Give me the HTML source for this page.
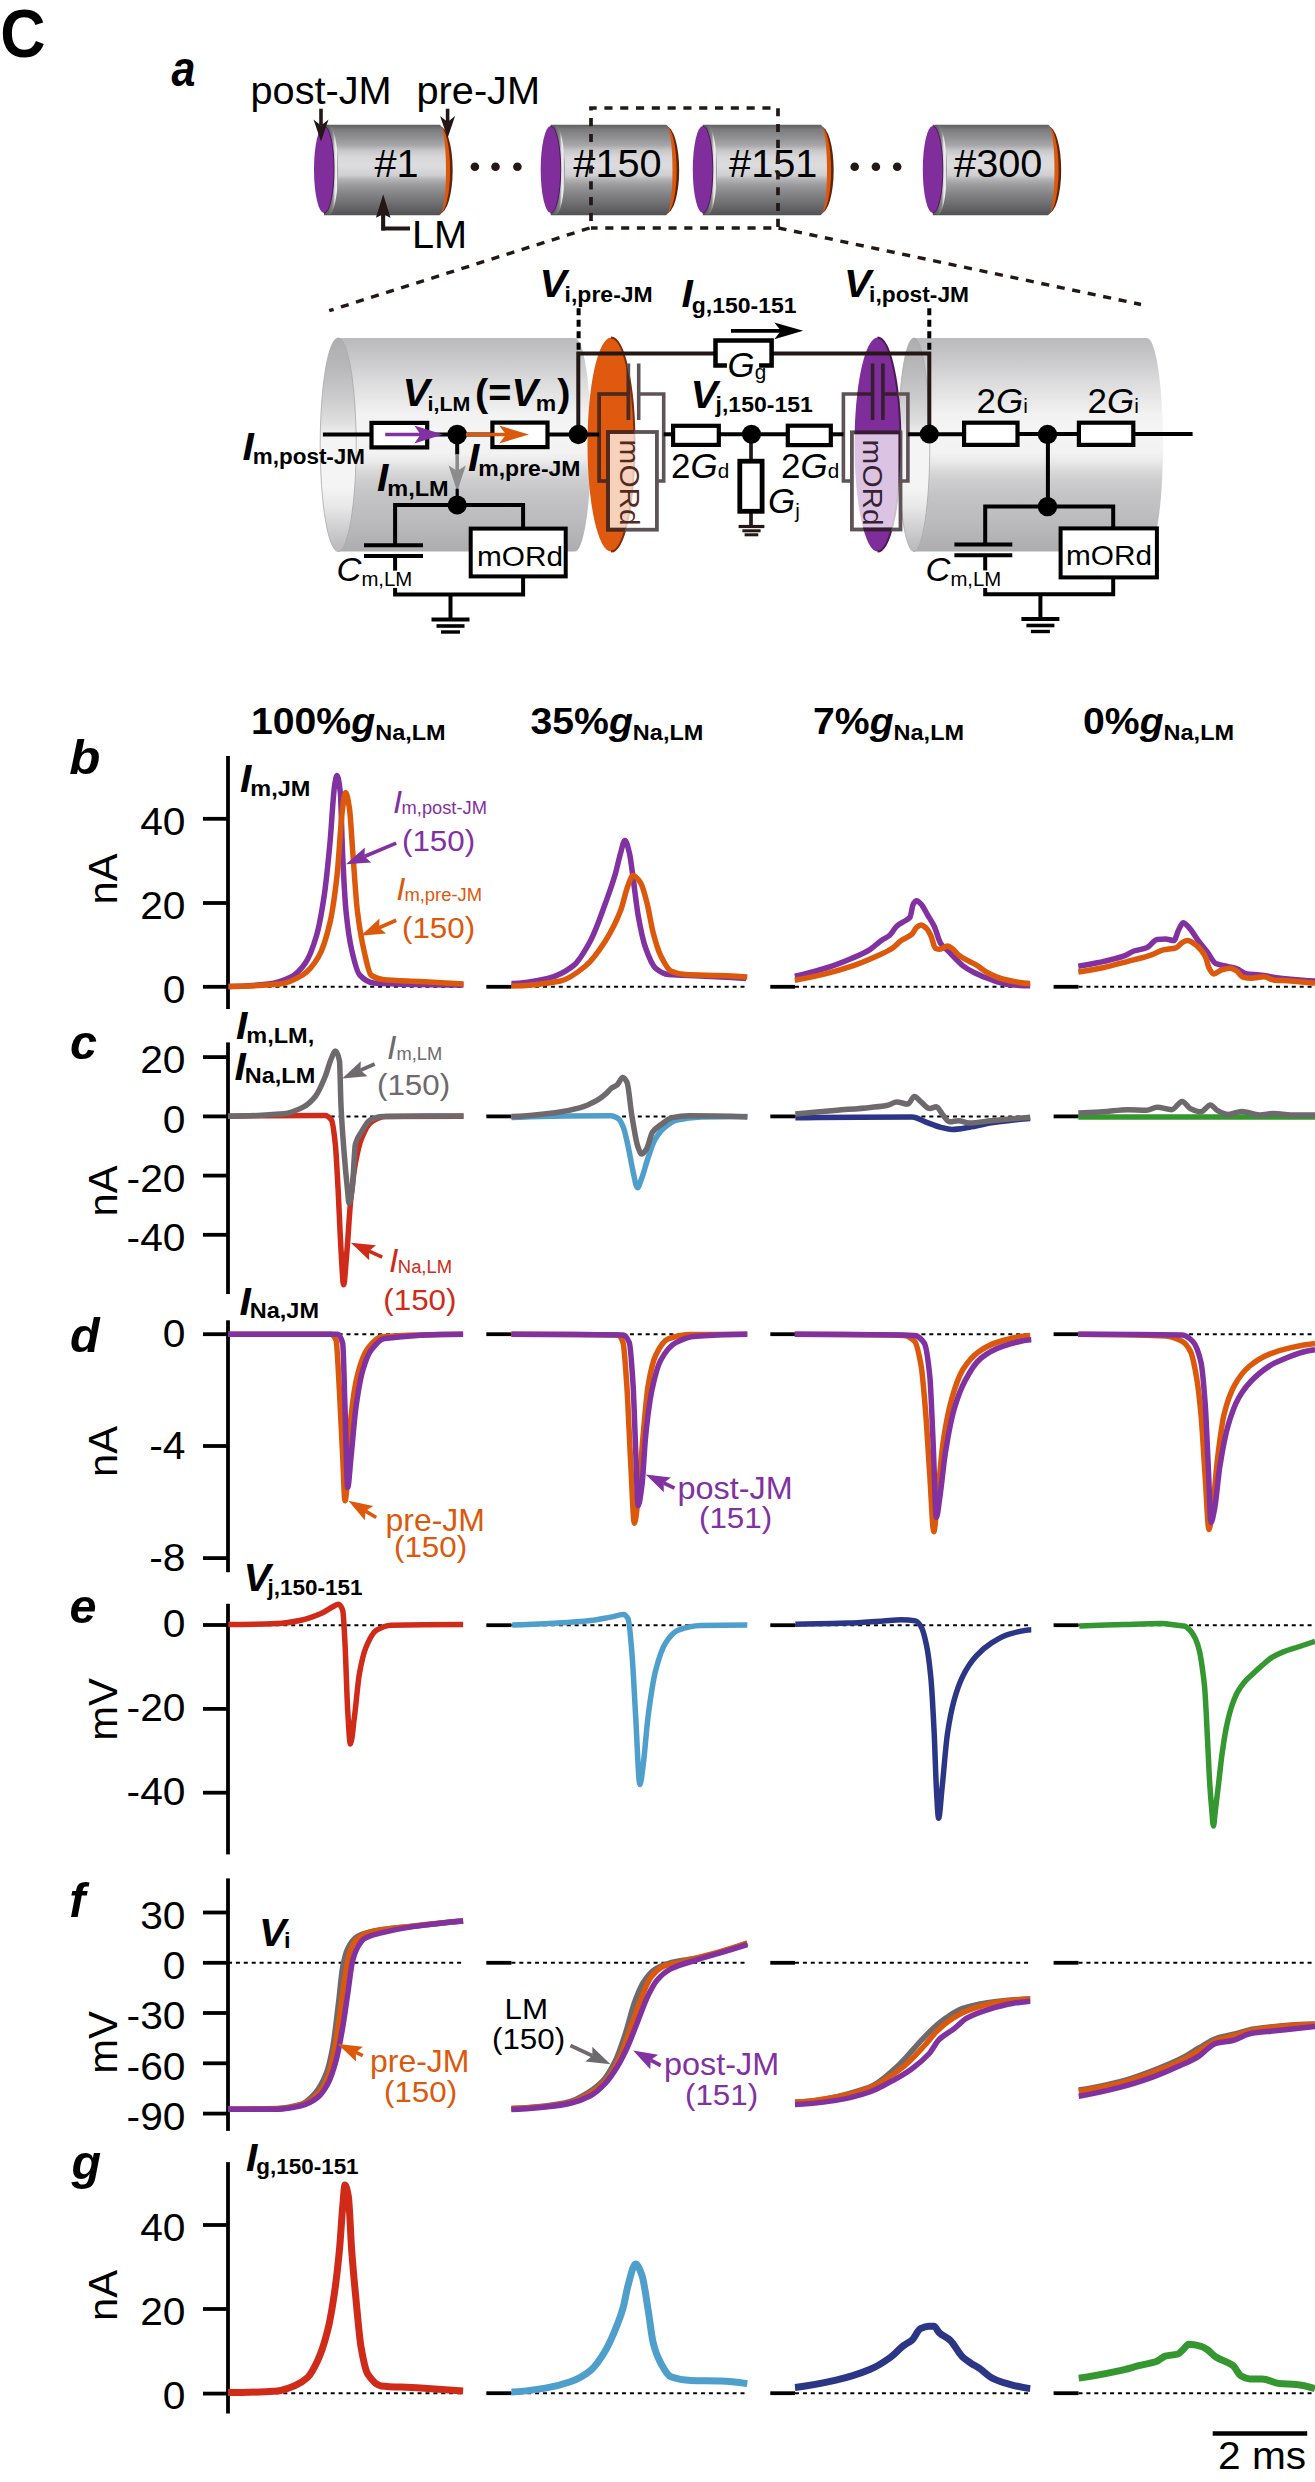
<!DOCTYPE html>
<html><head><meta charset="utf-8"><title>Figure</title>
<style>
html,body{margin:0;padding:0;background:#fff;}
svg{display:block;}
text{font-family:"Liberation Sans", sans-serif;}
</style></head>
<body>
<svg width="1315" height="2482" viewBox="0 0 1315 2482">
<rect width="1315" height="2482" fill="#fff"/>
<defs>
<linearGradient id="cylS" x1="0" y1="0" x2="0" y2="1">
<stop offset="0" stop-color="#5f5f61"/><stop offset="0.05" stop-color="#7a7a7c"/>
<stop offset="0.155" stop-color="#939395"/><stop offset="0.23" stop-color="#a8a8aa"/>
<stop offset="0.28" stop-color="#c5c5c7"/><stop offset="0.357" stop-color="#d8d8da"/>
<stop offset="0.46" stop-color="#dcdcde"/><stop offset="0.56" stop-color="#cfcfd1"/>
<stop offset="0.6" stop-color="#b5b5b7"/><stop offset="0.66" stop-color="#9d9d9f"/>
<stop offset="0.76" stop-color="#858587"/><stop offset="0.86" stop-color="#717173"/>
<stop offset="0.94" stop-color="#5f5f61"/><stop offset="1" stop-color="#525254"/>
</linearGradient>
<linearGradient id="rimS" x1="0" y1="0" x2="1" y2="0">
<stop offset="0" stop-color="#555557"/><stop offset="0.5" stop-color="#606062"/>
<stop offset="0.74" stop-color="#8a8a8c"/><stop offset="0.84" stop-color="#e4e4e6"/>
<stop offset="0.92" stop-color="#f2f2f2"/><stop offset="1" stop-color="#7a7a7c"/>
</linearGradient>
<linearGradient id="cylB" x1="0" y1="0" x2="0" y2="1">
<stop offset="0" stop-color="#bbbbbd"/><stop offset="0.03" stop-color="#bebec0"/>
<stop offset="0.125" stop-color="#cdcdcf"/><stop offset="0.208" stop-color="#dcdcdd"/>
<stop offset="0.291" stop-color="#e8e8e9"/><stop offset="0.354" stop-color="#f2f2f2"/>
<stop offset="0.43" stop-color="#f5f5f5"/><stop offset="0.54" stop-color="#f2f2f3"/>
<stop offset="0.58" stop-color="#e9e9ea"/><stop offset="0.62" stop-color="#dadadb"/>
<stop offset="0.66" stop-color="#cfcfd0"/><stop offset="0.726" stop-color="#c5c5c7"/>
<stop offset="0.788" stop-color="#c0c0c2"/><stop offset="0.85" stop-color="#bcbcbe"/>
<stop offset="0.913" stop-color="#b5b5b7"/><stop offset="0.967" stop-color="#b0b0b2"/>
<stop offset="1" stop-color="#adadaf"/>
</linearGradient>
<linearGradient id="faceB" x1="0" y1="0" x2="0" y2="1">
<stop offset="0" stop-color="#adadaf"/><stop offset="0.03" stop-color="#b0b0b2"/>
<stop offset="0.14" stop-color="#b8b8ba"/><stop offset="0.27" stop-color="#cacacc"/>
<stop offset="0.4" stop-color="#e0e0e0"/><stop offset="0.44" stop-color="#ececec"/>
<stop offset="0.48" stop-color="#f4f4f4"/><stop offset="0.7" stop-color="#f4f4f4"/>
<stop offset="0.79" stop-color="#e8e8e8"/><stop offset="0.87" stop-color="#d4d4d6"/>
<stop offset="0.96" stop-color="#c0c0c2"/><stop offset="1" stop-color="#bababc"/>
</linearGradient>
<clipPath id="clipO"><ellipse cx="611" cy="444.6" rx="23.5" ry="107"/></clipPath>
<clipPath id="clipP"><ellipse cx="877.5" cy="444.6" rx="23" ry="107"/></clipPath>
</defs>
<text transform="translate(0.3 57) scale(0.915 1)" font-size="68.5" font-weight="bold" font-style="normal" fill="#000" text-anchor="start" >C</text>
<text transform="translate(171.5 85.5) scale(0.86 1)" font-size="50" font-weight="bold" font-style="italic" fill="#000" text-anchor="start" >a</text>
<path d="M439.5,126.2 A13.2,43.74999999999999 0 0 1 439.5,213.7 Z" fill="#5e2410"/><path d="M439.5,126.2 A10.6,43.74999999999999 0 0 1 439.5,213.7 Z" fill="#dc590c"/><path d="M324,124.7 L439.5,124.7 A6.5,45.24999999999999 0 0 1 439.5,215.2 L324,215.2 Z" fill="url(#cylS)"/><ellipse cx="328.3" cy="169.95" rx="9.8" ry="45.24999999999999" fill="url(#rimS)"/><ellipse cx="324" cy="169.5" rx="10" ry="43.6" fill="#7f2e9c"/><path d="M324,125.9 A10,43.6 0 0 1 324,213.1" fill="none" stroke="#4c1a55" stroke-width="1"/><text transform="translate(374.5 176.6) scale(1.045 1)" font-size="38" font-weight="normal" font-style="normal" fill="#000" text-anchor="start" >#1</text>
<path d="M666,126.2 A13.2,43.74999999999999 0 0 1 666,213.7 Z" fill="#5e2410"/><path d="M666,126.2 A10.6,43.74999999999999 0 0 1 666,213.7 Z" fill="#dc590c"/><path d="M550.7,124.7 L666,124.7 A6.5,45.24999999999999 0 0 1 666,215.2 L550.7,215.2 Z" fill="url(#cylS)"/><ellipse cx="555.0" cy="169.95" rx="9.8" ry="45.24999999999999" fill="url(#rimS)"/><ellipse cx="550.7" cy="169.5" rx="10" ry="43.6" fill="#7f2e9c"/><path d="M550.7,125.9 A10,43.6 0 0 1 550.7,213.1" fill="none" stroke="#4c1a55" stroke-width="1"/><text transform="translate(573.3 176.6) scale(1.045 1)" font-size="38" font-weight="normal" font-style="normal" fill="#000" text-anchor="start" >#150</text>
<path d="M820.5,126.2 A13.2,43.74999999999999 0 0 1 820.5,213.7 Z" fill="#5e2410"/><path d="M820.5,126.2 A10.6,43.74999999999999 0 0 1 820.5,213.7 Z" fill="#dc590c"/><path d="M702.8,124.7 L820.5,124.7 A6.5,45.24999999999999 0 0 1 820.5,215.2 L702.8,215.2 Z" fill="url(#cylS)"/><ellipse cx="707.0999999999999" cy="169.95" rx="9.8" ry="45.24999999999999" fill="url(#rimS)"/><ellipse cx="702.8" cy="169.5" rx="10" ry="43.6" fill="#7f2e9c"/><path d="M702.8,125.9 A10,43.6 0 0 1 702.8,213.1" fill="none" stroke="#4c1a55" stroke-width="1"/><text transform="translate(729.1 176.6) scale(1.045 1)" font-size="38" font-weight="normal" font-style="normal" fill="#000" text-anchor="start" >#151</text>
<path d="M1048,126.2 A13.2,43.74999999999999 0 0 1 1048,213.7 Z" fill="#5e2410"/><path d="M1048,126.2 A10.6,43.74999999999999 0 0 1 1048,213.7 Z" fill="#dc590c"/><path d="M932.8,124.7 L1048,124.7 A6.5,45.24999999999999 0 0 1 1048,215.2 L932.8,215.2 Z" fill="url(#cylS)"/><ellipse cx="937.0999999999999" cy="169.95" rx="9.8" ry="45.24999999999999" fill="url(#rimS)"/><ellipse cx="932.8" cy="169.5" rx="10" ry="43.6" fill="#7f2e9c"/><path d="M932.8,125.9 A10,43.6 0 0 1 932.8,213.1" fill="none" stroke="#4c1a55" stroke-width="1"/><text transform="translate(954.1 176.6) scale(1.045 1)" font-size="38" font-weight="normal" font-style="normal" fill="#000" text-anchor="start" >#300</text>
<circle cx="474.9" cy="166.7" r="4.3" fill="#231815"/>
<circle cx="495.5" cy="166.7" r="4.3" fill="#231815"/>
<circle cx="517.4" cy="166.7" r="4.3" fill="#231815"/>
<circle cx="854.7" cy="166.7" r="4.3" fill="#231815"/>
<circle cx="875.9" cy="166.7" r="4.3" fill="#231815"/>
<circle cx="897.2" cy="166.7" r="4.3" fill="#231815"/>
<text transform="translate(250.5 103.8) scale(1.045 1)" font-size="38" font-weight="normal" font-style="normal" fill="#000" text-anchor="start" >post-JM</text>
<text transform="translate(416.5 103.8) scale(1.045 1)" font-size="38" font-weight="normal" font-style="normal" fill="#000" text-anchor="start" >pre-JM</text>
<line x1="321" y1="108.7" x2="321" y2="125.5" stroke="#231815" stroke-width="3.6"/><path d="M321,141.5 L313.5,119.5 L321,125.5 L328.5,119.5 Z" fill="#231815"/>
<line x1="447.6" y1="108.7" x2="447.6" y2="122" stroke="#231815" stroke-width="3.6"/><path d="M447.6,138 L440.1,116 L447.6,122 L455.1,116 Z" fill="#231815"/>
<line x1="383.2" y1="230.5" x2="383.2" y2="214.2" stroke="#231815" stroke-width="3.6"/><path d="M383.2,194.2 L375.9,217.7 L383.2,214.2 L390.5,217.7 Z" fill="#231815"/>
<polyline points="383.2,214 383.2,228.5 410,228.5" fill="none" stroke="#231815" stroke-width="4"/>
<text transform="translate(412 247.8) scale(1.045 1)" font-size="38" font-weight="normal" font-style="normal" fill="#000" text-anchor="start" >LM</text>
<path d="M591,228 L591,108 L778,108 L778,228 Z" fill="none" stroke="#231815" stroke-width="3.7" stroke-dasharray="8.1 7.7" stroke-dashoffset="-7"/>
<line x1="589.6" y1="228" x2="329.2" y2="310.7" stroke="#231815" stroke-width="3.4" stroke-dasharray="8.1 7.7"/>
<line x1="778.5" y1="228" x2="1141" y2="304.5" stroke="#231815" stroke-width="3.4" stroke-dasharray="8.1 7.7"/>
<path d="M339,338 L575,338 A16,106.75 0 0 1 575,551.5 L339,551.5 Z" fill="url(#cylB)"/>
<ellipse cx="338.2" cy="444.75" rx="18" ry="106.75" fill="url(#faceB)" stroke="#a8a8aa" stroke-width="0.8"/>
<path d="M913.7,338 L1147,338 A16,106.75 0 0 1 1147,551.5 L913.7,551.5 Z" fill="url(#cylB)"/>
<ellipse cx="914" cy="444.75" rx="15.8" ry="106.75" fill="url(#faceB)" stroke="#a8a8aa" stroke-width="0.8"/>
<ellipse cx="611" cy="444.6" rx="23.5" ry="107" fill="#df5a0e"/>
<path d="M611,337.6 A23.5,107 0 0 1 611,551.6" fill="none" stroke="#7a2e10" stroke-width="2"/>
<ellipse cx="877.5" cy="444.6" rx="23" ry="107" fill="#7f2d9b"/>
<path d="M877.5,337.6 A23,107 0 0 1 877.5,551.6" fill="none" stroke="#4a1d52" stroke-width="2"/>
<rect x="608" y="432" width="48.9" height="97.7" fill="#fff" fill-opacity="0.72"/>
<rect x="851.9" y="432.3" width="48.6" height="97.2" fill="#fff" fill-opacity="0.72"/>
<g fill="none" stroke="#5e5356" stroke-width="3.6"><polyline points="608,481 599.2,481 599.2,394 628.4,394"/><polyline points="638.7,394 663.7,394 663.7,481 656.9,481"/><line x1="628.4" y1="363.5" x2="628.4" y2="420"/><line x1="638.7" y1="363.5" x2="638.7" y2="420"/></g><rect x="608" y="432" width="48.9" height="97.7" fill="none" stroke="#5e5356" stroke-width="3.8"/>
<g clip-path="url(#clipO)"><g fill="none" stroke="#52281a" stroke-width="3.6"><polyline points="608,481 599.2,481 599.2,394 628.4,394"/><polyline points="638.7,394 663.7,394 663.7,481 656.9,481"/><line x1="628.4" y1="363.5" x2="628.4" y2="420"/><line x1="638.7" y1="363.5" x2="638.7" y2="420"/></g><rect x="608" y="432" width="48.9" height="97.7" fill="none" stroke="#52281a" stroke-width="3.8"/></g>
<g fill="none" stroke="#5e5356" stroke-width="3.6"><polyline points="851.9,481 843.4,481 843.4,394 872.6,394"/><polyline points="882.9,394 907.9,394 907.9,481 900.5,481"/><line x1="872.6" y1="363.5" x2="872.6" y2="420"/><line x1="882.9" y1="363.5" x2="882.9" y2="420"/></g><rect x="851.9" y="432.3" width="48.6" height="97.2" fill="none" stroke="#5e5356" stroke-width="3.8"/>
<g clip-path="url(#clipP)"><g fill="none" stroke="#3a1b36" stroke-width="3.6"><polyline points="851.9,481 843.4,481 843.4,394 872.6,394"/><polyline points="882.9,394 907.9,394 907.9,481 900.5,481"/><line x1="872.6" y1="363.5" x2="872.6" y2="420"/><line x1="882.9" y1="363.5" x2="882.9" y2="420"/></g><rect x="851.9" y="432.3" width="48.6" height="97.2" fill="none" stroke="#3a1b36" stroke-width="3.8"/></g>
<text transform="translate(620.3 439.6) rotate(90) scale(1.045 1)" font-size="28.5" font-weight="normal" font-style="normal" fill="#55291a" text-anchor="start" >mORd</text>
<text transform="translate(863.2 439.6) rotate(90) scale(1.045 1)" font-size="28.5" font-weight="normal" font-style="normal" fill="#3a1f35" text-anchor="start" >mORd</text>
<g stroke="#000" stroke-width="4" fill="none">
<line x1="322.9" y1="434.5" x2="371" y2="434.5"/>
<line x1="428" y1="434.5" x2="492" y2="434.5"/>
<line x1="548" y1="434.5" x2="599.2" y2="434.5"/>
<polyline points="578.3,434.5 578.3,353.4 716,353.4" stroke="#231815"/>
<polyline points="771,353.4 929.3,353.4 929.3,434.3" stroke="#231815"/>
<line x1="663.7" y1="434.3" x2="673" y2="434.3"/>
<line x1="719" y1="434.3" x2="787.5" y2="434.3"/>
<line x1="831" y1="434.3" x2="843.4" y2="434.3"/>
<line x1="907.9" y1="434.3" x2="964" y2="434.3"/>
<line x1="1017.8" y1="434" x2="1079" y2="434"/>
<line x1="1133.5" y1="434" x2="1192.6" y2="434"/>
<line x1="751" y1="434.3" x2="751" y2="461" stroke="#231815" stroke-width="3.7"/>
<line x1="751" y1="512" x2="751" y2="527" stroke="#231815" stroke-width="3.7"/>
<line x1="1047.9" y1="434" x2="1047.9" y2="506.6"/>
<polyline points="985.2,544.6 985.2,506.6 1113.2,506.6 1113.2,527"/>
<polyline points="985.2,555.2 985.2,594.3 1113.2,594.3 1113.2,578"/>
<line x1="1040.4" y1="594.3" x2="1040.4" y2="619"/>
<polyline points="395.1,545.2 395.1,505 523.1,505 523.1,527"/>
<polyline points="395.1,555.9 395.1,594.5 523.1,594.5 523.1,578"/>
<line x1="450.5" y1="594.5" x2="450.5" y2="619.5"/>
<line x1="457.2" y1="434.5" x2="457.2" y2="454.5"/>
</g>
<line x1="364" y1="545.2" x2="423" y2="545.2" stroke="#000" stroke-width="4" />
<line x1="364" y1="555.9" x2="423" y2="555.9" stroke="#000" stroke-width="4" />
<line x1="954.4" y1="544.6" x2="1012.3" y2="544.6" stroke="#000" stroke-width="4" />
<line x1="954.4" y1="555.2" x2="1012.3" y2="555.2" stroke="#000" stroke-width="4" />
<line x1="431.5" y1="619.5" x2="469.5" y2="619.5" stroke="#000" stroke-width="4" /><line x1="436.5" y1="626.0" x2="464.5" y2="626.0" stroke="#000" stroke-width="3.6" /><line x1="441.0" y1="632.0" x2="460.0" y2="632.0" stroke="#000" stroke-width="3.4" />
<line x1="1021.4000000000001" y1="619" x2="1059.4" y2="619" stroke="#000" stroke-width="4" /><line x1="1026.4" y1="625.5" x2="1054.4" y2="625.5" stroke="#000" stroke-width="3.6" /><line x1="1030.9" y1="631.5" x2="1049.9" y2="631.5" stroke="#000" stroke-width="3.4" />
<line x1="738.6" y1="526.5" x2="764.4" y2="526.5" stroke="#231815" stroke-width="3.2" />
<line x1="742.4" y1="530.8" x2="760.6" y2="530.8" stroke="#231815" stroke-width="3" />
<line x1="744.6" y1="534.8" x2="758.3" y2="534.8" stroke="#231815" stroke-width="3" />
<rect x="371.5" y="422.90000000000003" width="55.70000000000003" height="24.49999999999999" fill="#fff" stroke="#000" stroke-width="4.2"/>
<rect x="492.40000000000003" y="422.6" width="55.10000000000001" height="24.49999999999999" fill="#fff" stroke="#000" stroke-width="4.2"/>
<rect x="673.1" y="425.8" width="45.699999999999974" height="19.100000000000012" fill="#fff" stroke="#000" stroke-width="4.2"/>
<rect x="787.8000000000001" y="425.70000000000005" width="42.99999999999993" height="19.399999999999967" fill="#fff" stroke="#000" stroke-width="4.2"/>
<rect x="964.1" y="422.70000000000005" width="53.40000000000002" height="22.199999999999978" fill="#fff" stroke="#000" stroke-width="4.2"/>
<rect x="1078.8999999999999" y="422.70000000000005" width="54.400000000000134" height="22.199999999999978" fill="#fff" stroke="#000" stroke-width="4.2"/>
<rect x="739.8" y="461.2" width="22.300000000000022" height="50.10000000000004" fill="#fff" stroke="#000" stroke-width="4.8"/>
<rect x="470.7" y="528.6" width="95.00000000000006" height="47.799999999999955" fill="#fff" stroke="#000" stroke-width="4"/>
<rect x="1060.6" y="528.4" width="96.30000000000018" height="49.0" fill="#fff" stroke="#000" stroke-width="4"/>
<path d="M726.9,365.5 L715.5,365.5 L715.5,340.6 L771.6,340.6 L771.6,365.5 L759.1,365.5" fill="none" stroke="#000" stroke-width="4.5"/>
<circle cx="457.2" cy="434.5" r="9.8" fill="#000"/>
<circle cx="578.3" cy="434.5" r="9.7" fill="#000"/>
<circle cx="751.5" cy="434.3" r="9.5" fill="#000"/>
<circle cx="929.3" cy="434.1" r="9.5" fill="#000"/>
<circle cx="1047.5" cy="434.5" r="9.7" fill="#000"/>
<circle cx="1047.5" cy="506.6" r="9.7" fill="#000"/>
<circle cx="457.2" cy="505" r="9.5" fill="#000"/>
<line x1="385.2" y1="434.5" x2="424" y2="434.5" stroke="#8231a0" stroke-width="3.6"/>
<path d="M443,434.5 L414.3,425.6 L420.5,434.5 L414.3,443.4 Z" fill="#8231a0"/>
<line x1="466" y1="434.5" x2="514" y2="434.5" stroke="#dc590c" stroke-width="3.4"/>
<path d="M528.9,434.5 L499.2,425.5 L506,434.5 L499.2,443.5 Z" fill="#dc590c"/>
<line x1="457.2" y1="454.5" x2="457.2" y2="472" stroke="#8c8c8c" stroke-width="3.6"/>
<path d="M457.2,491.5 L448.6,465.5 L457.2,471 L465.8,465.5 Z" fill="#8c8c8c"/>
<line x1="457.2" y1="488.7" x2="457.2" y2="497" stroke="#000" stroke-width="3.2"/>
<line x1="731" y1="330.8" x2="790" y2="330.8" stroke="#000" stroke-width="3.8"/>
<path d="M803.2,330.8 L774.3,322.4 L781,330.8 L774.3,339.2 Z" fill="#000"/>
<line x1="578.6" y1="308.2" x2="578.6" y2="352" stroke="#000" stroke-width="4" stroke-dasharray="7 4.5"/>
<line x1="929.3" y1="308.2" x2="929.3" y2="352" stroke="#000" stroke-width="4" stroke-dasharray="7 4.5"/>
<text transform="translate(539.5 297.2) scale(1.045 1)" font-size="39" font-weight="bold" fill="#000"><tspan font-style="italic">V</tspan><tspan font-size="22" font-weight="bold" dy="4.6" dx="-2">i,pre-JM</tspan></text>
<text transform="translate(681.5 307.2) scale(1.045 1)" font-size="39" font-weight="bold" fill="#000"><tspan font-style="italic">I</tspan><tspan font-size="22" font-weight="bold" dy="5.3" dx="-1">g,150-151</tspan></text>
<text transform="translate(844 297.2) scale(1.045 1)" font-size="39" font-weight="bold" fill="#000"><tspan font-style="italic">V</tspan><tspan font-size="21.8" font-weight="bold" dy="4.6" dx="-2">i,post-JM</tspan></text>
<text transform="translate(242.5 460.4) scale(1.045 1)" font-size="39" font-weight="bold" fill="#000"><tspan font-style="italic">I</tspan><tspan font-size="21.5" font-weight="bold" dy="4" dx="-1">m,post-JM</tspan></text>
<text transform="translate(402.5 406) scale(1.045 1)" font-size="39" font-weight="bold" fill="#000"><tspan font-style="italic">V</tspan><tspan font-size="20.5" font-weight="bold" dy="5" dx="-2">i,LM</tspan></text>
<text transform="translate(475 406) scale(1.045 1)" font-size="38" font-weight="bold">(=<tspan font-style="italic">V</tspan><tspan font-size="22" dy="5" dx="-2">m</tspan><tspan dy="-5" dx="1">)</tspan></text>
<text transform="translate(377 490.9) scale(1.045 1)" font-size="39" font-weight="bold" fill="#000"><tspan font-style="italic">I</tspan><tspan font-size="22.5" font-weight="bold" dy="5" dx="-1">m,LM</tspan></text>
<text transform="translate(468 471) scale(1.045 1)" font-size="39" font-weight="bold" fill="#000"><tspan font-style="italic">I</tspan><tspan font-size="22" font-weight="bold" dy="4.6" dx="-1">m,pre-JM</tspan></text>
<rect x="392.4" y="570.6" width="5.4" height="17.4" fill="#fff"/>
<rect x="982.5" y="570.4" width="5.4" height="17.6" fill="#fff"/>
<text transform="translate(336.5 580.5) scale(1.045 1)" font-size="33" font-weight="normal" fill="#000"><tspan font-style="italic">C</tspan><tspan font-size="19.5" font-weight="normal" dy="5.5" dx="0">m,LM</tspan></text>
<text transform="translate(925.5 580.5) scale(1.045 1)" font-size="33" font-weight="normal" fill="#000"><tspan font-style="italic">C</tspan><tspan font-size="19.5" font-weight="normal" dy="5.5" dx="0">m,LM</tspan></text>
<text transform="translate(477 566) scale(1.045 1)" font-size="28.5" font-weight="normal" font-style="normal" fill="#000" text-anchor="start" >mORd</text>
<text transform="translate(1066 564.5) scale(1.045 1)" font-size="28.5" font-weight="normal" font-style="normal" fill="#000" text-anchor="start" >mORd</text>
<text transform="translate(690.5 408.4) scale(1.045 1)" font-size="39" font-weight="bold" fill="#000"><tspan font-style="italic">V</tspan><tspan font-size="22" font-weight="bold" dy="4" dx="-2">j,150-151</tspan></text>
<text transform="translate(727.5 376.5) scale(0.985 1)" font-size="35.5" font-weight="normal" fill="#000"><tspan font-style="italic">G</tspan><tspan font-size="21" font-weight="normal" dy="2.5" dx="0">g</tspan></text>
<text transform="translate(768 512.5) scale(0.985 1)" font-size="35.5" font-weight="normal" fill="#000"><tspan font-style="italic">G</tspan><tspan font-size="21" font-weight="normal" dy="5" dx="0">j</tspan></text>
<text transform="translate(671 478.3) scale(0.985 1)" font-size="35.5">2<tspan font-style="italic">G</tspan><tspan font-size="21" dy="0" dx="0">d</tspan></text>
<text transform="translate(781 478.3) scale(0.985 1)" font-size="35.5">2<tspan font-style="italic">G</tspan><tspan font-size="21" dy="0" dx="0">d</tspan></text>
<text transform="translate(976.5 412.5) scale(0.985 1)" font-size="35.5">2<tspan font-style="italic">G</tspan><tspan font-size="21" dy="0" dx="0">i</tspan></text>
<text transform="translate(1087.5 412.5) scale(0.985 1)" font-size="35.5">2<tspan font-style="italic">G</tspan><tspan font-size="21" dy="0" dx="0">i</tspan></text>
<text transform="translate(69.2 774) scale(1.05 1)" font-size="48.5" font-weight="bold" font-style="italic" fill="#000" text-anchor="start" >b</text>
<text transform="translate(70.1 1059)" font-size="48.5" font-weight="bold" font-style="italic" fill="#000" text-anchor="start" >c</text>
<text transform="translate(70 1352)" font-size="48.5" font-weight="bold" font-style="italic" fill="#000" text-anchor="start" >d</text>
<text transform="translate(69.4 1622.5)" font-size="48.5" font-weight="bold" font-style="italic" fill="#000" text-anchor="start" >e</text>
<text transform="translate(69.2 1917)" font-size="48.5" font-weight="bold" font-style="italic" fill="#000" text-anchor="start" >f</text>
<text transform="translate(71.4 2179)" font-size="48.5" font-weight="bold" font-style="italic" fill="#000" text-anchor="start" >g</text>
<text transform="translate(251 734.4) scale(1.045 1)" font-size="37.5" font-weight="bold">100%<tspan font-style="italic">g</tspan><tspan font-size="22.5" dy="6">Na,LM</tspan></text>
<text transform="translate(530.5 734.4) scale(1.045 1)" font-size="37.5" font-weight="bold">35%<tspan font-style="italic">g</tspan><tspan font-size="22.5" dy="6">Na,LM</tspan></text>
<text transform="translate(813 734.4) scale(1.045 1)" font-size="37.5" font-weight="bold">7%<tspan font-style="italic">g</tspan><tspan font-size="22.5" dy="6">Na,LM</tspan></text>
<text transform="translate(1083 734.4) scale(1.045 1)" font-size="37.5" font-weight="bold">0%<tspan font-style="italic">g</tspan><tspan font-size="22.5" dy="6">Na,LM</tspan></text>
<line x1="228" y1="756" x2="228" y2="1009" stroke="#000" stroke-width="3.8" />
<line x1="203" y1="818.8" x2="228" y2="818.8" stroke="#000" stroke-width="3.8" />
<text transform="translate(185.5 834.8) scale(1.045 1)" font-size="39" font-weight="normal" font-style="normal" fill="#000" text-anchor="end" >40</text>
<line x1="203" y1="903" x2="228" y2="903" stroke="#000" stroke-width="3.8" />
<text transform="translate(185.5 919) scale(1.045 1)" font-size="39" font-weight="normal" font-style="normal" fill="#000" text-anchor="end" >20</text>
<line x1="203" y1="986.8" x2="228" y2="986.8" stroke="#000" stroke-width="3.8" />
<text transform="translate(185.5 1002.8) scale(1.045 1)" font-size="39" font-weight="normal" font-style="normal" fill="#000" text-anchor="end" >0</text>
<text transform="translate(116.5 879) rotate(-90) scale(1.045 1)" font-size="40" font-weight="normal" font-style="normal" fill="#000" text-anchor="middle" >nA</text>
<line x1="228" y1="986.8" x2="463.5" y2="986.8" stroke="#000" stroke-width="2" stroke-dasharray="4 3.9"/>
<line x1="511.4" y1="986.8" x2="747.3" y2="986.8" stroke="#000" stroke-width="2" stroke-dasharray="4 3.9"/>
<line x1="486.3" y1="986.8" x2="511.4" y2="986.8" stroke="#000" stroke-width="3.8" />
<line x1="795" y1="986.8" x2="1030.2" y2="986.8" stroke="#000" stroke-width="2" stroke-dasharray="4 3.9"/>
<line x1="770.3" y1="986.8" x2="795" y2="986.8" stroke="#000" stroke-width="3.8" />
<line x1="1078.5" y1="986.8" x2="1313" y2="986.8" stroke="#000" stroke-width="2" stroke-dasharray="4 3.9"/>
<line x1="1053.6" y1="986.8" x2="1078.5" y2="986.8" stroke="#000" stroke-width="3.8" />
<text transform="translate(240 792) scale(1.045 1)" font-size="39" font-weight="bold" fill="#000"><tspan font-style="italic">I</tspan><tspan font-size="22.5" font-weight="bold" dy="4" dx="-1">m,JM</tspan></text>
<path d="M228.50,986.40 C241.80,986.40 255.10,985.43 268.40,984.00 C275.93,983.19 283.47,980.67 291.00,977.00 C295.67,974.72 300.33,970.10 305.00,963.60 C308.80,958.31 312.60,948.83 316.40,936.00 C319.03,927.11 321.67,912.72 324.30,895.00 C326.20,882.21 328.10,862.86 330.00,842.70 C331.53,826.43 333.07,794.84 334.60,785.60 C335.40,780.78 336.20,775.40 337.00,775.40 C338.10,775.40 339.20,782.55 340.30,792.50 C341.07,799.43 341.83,837.96 342.60,854.00 C343.73,877.71 344.87,899.58 346.00,911.00 C347.90,930.14 349.80,941.67 351.70,950.00 C354.37,961.69 357.03,972.21 359.70,975.00 C364.27,979.78 368.83,982.67 373.40,983.00 C388.93,984.13 404.47,984.24 420.00,984.50 C434.50,984.74 449.00,984.98 463.50,985.00" fill="none" stroke="#8231a0" stroke-width="5.5" stroke-linejoin="round" stroke-linecap="butt"/>
<path d="M228.50,986.40 C245.63,986.40 262.77,985.59 279.90,984.00 C287.50,983.29 295.10,979.60 302.70,975.00 C308.00,971.79 313.30,965.74 318.60,956.70 C322.40,950.22 326.20,938.68 330.00,922.50 C332.30,912.71 334.60,896.70 336.90,876.90 C338.80,860.55 340.70,821.84 342.60,808.40 C343.60,801.33 344.60,792.50 345.60,792.50 C346.87,792.50 348.13,800.06 349.40,808.00 C350.57,815.32 351.73,838.94 352.90,854.00 C354.40,873.37 355.90,898.55 357.40,911.00 C359.70,930.09 362.00,942.00 364.30,952.00 C366.53,961.71 368.77,973.31 371.00,975.00 C374.83,977.90 378.67,979.08 382.50,979.50 C395.00,980.86 407.50,980.81 420.00,981.50 C434.50,982.30 449.00,983.13 463.50,984.00" fill="none" stroke="#dc590c" stroke-width="5.5" stroke-linejoin="round" stroke-linecap="butt"/>
<path d="M511.40,983.40 C523.53,983.40 535.67,981.10 547.80,978.40 C556.20,976.53 564.60,972.36 573.00,966.00 C578.83,961.59 584.67,951.48 590.50,940.70 C595.50,931.46 600.50,916.69 605.50,903.00 C608.87,893.78 612.23,884.67 615.60,873.00 C617.27,867.22 618.93,858.62 620.60,853.00 C622.03,848.17 623.47,840.40 624.90,840.40 C626.40,840.40 627.90,846.98 629.40,853.00 C630.63,857.95 631.87,869.31 633.10,878.00 C634.80,889.97 636.50,906.24 638.20,915.70 C640.70,929.62 643.20,941.31 645.70,948.30 C649.03,957.63 652.37,965.70 655.70,968.40 C659.90,971.80 664.10,974.21 668.30,974.60 C678.87,975.57 689.43,975.50 700.00,976.00 C715.33,976.73 730.67,977.53 746.00,978.40" fill="none" stroke="#8231a0" stroke-width="5.5" stroke-linejoin="round" stroke-linecap="butt"/>
<path d="M511.40,986.00 C527.73,986.00 544.07,984.08 560.40,981.00 C568.77,979.42 577.13,972.88 585.50,966.00 C592.17,960.51 598.83,951.13 605.50,940.70 C610.53,932.83 615.57,923.62 620.60,910.60 C623.07,904.22 625.53,891.61 628.00,885.50 C629.67,881.37 631.33,875.50 633.00,875.50 C635.57,875.50 638.13,879.11 640.70,883.00 C642.80,886.19 644.90,894.94 647.00,903.00 C649.07,910.93 651.13,925.23 653.20,933.00 C655.70,942.40 658.20,950.70 660.70,955.80 C664.07,962.66 667.43,969.40 670.80,970.90 C675.80,973.12 680.80,974.33 685.80,974.60 C697.20,975.21 708.60,975.09 720.00,975.50 C729.10,975.83 738.20,976.38 747.30,977.00" fill="none" stroke="#dc590c" stroke-width="5.5" stroke-linejoin="round" stroke-linecap="butt"/>
<path d="M794.80,976.20 C805.27,974.14 815.73,971.25 826.20,968.00 C835.00,965.26 843.80,961.80 852.60,958.00 C858.50,955.45 864.40,952.96 870.30,949.30 C873.97,947.02 877.63,943.08 881.30,940.50 C884.20,938.46 887.10,937.51 890.00,935.00 C892.23,933.06 894.47,928.16 896.70,926.20 C898.93,924.24 901.17,923.29 903.40,921.80 C905.60,920.33 907.80,920.09 910.00,917.30 C911.10,915.91 912.20,905.72 913.30,904.00 C914.40,902.28 915.50,900.80 916.60,900.80 C918.07,900.80 919.53,902.55 921.00,904.00 C923.20,906.17 925.40,911.30 927.60,915.00 C929.80,918.70 932.00,921.67 934.20,926.20 C936.43,930.80 938.67,940.57 940.90,943.80 C943.10,946.98 945.30,948.18 947.50,950.40 C949.67,952.58 951.83,954.83 954.00,957.00 C957.00,960.01 960.00,963.64 963.00,965.90 C966.67,968.66 970.33,970.67 974.00,972.50 C979.13,975.07 984.27,977.25 989.40,979.00 C996.00,981.25 1002.60,984.01 1009.20,984.60 C1016.20,985.22 1023.20,985.70 1030.20,985.70" fill="none" stroke="#8231a0" stroke-width="5.5" stroke-linejoin="round" stroke-linecap="butt"/>
<path d="M794.80,980.20 C805.27,978.46 815.73,976.17 826.20,973.60 C835.00,971.44 843.80,968.89 852.60,965.90 C859.97,963.40 867.33,960.30 874.70,957.00 C880.57,954.37 886.43,952.03 892.30,948.20 C895.27,946.26 898.23,942.62 901.20,940.50 C904.87,937.89 908.53,937.25 912.20,933.90 C913.67,932.56 915.13,928.44 916.60,927.30 C918.07,926.16 919.53,925.00 921.00,925.00 C922.83,925.00 924.67,926.71 926.50,928.40 C928.00,929.78 929.50,932.82 931.00,936.00 C932.43,939.04 933.87,947.55 935.30,948.20 C936.80,948.88 938.30,949.30 939.80,949.30 C942.37,949.30 944.93,946.00 947.50,946.00 C948.97,946.00 950.43,947.24 951.90,948.20 C954.10,949.63 956.30,953.04 958.50,954.80 C960.70,956.56 962.90,957.92 965.10,959.20 C968.77,961.34 972.43,962.65 976.10,964.80 C979.80,966.97 983.50,970.53 987.20,972.50 C992.33,975.23 997.47,977.74 1002.60,979.00 C1011.80,981.26 1021.00,983.50 1030.20,983.50" fill="none" stroke="#dc590c" stroke-width="5.5" stroke-linejoin="round" stroke-linecap="butt"/>
<path d="M1078.30,966.20 C1085.07,965.18 1091.83,963.92 1098.60,962.50 C1106.93,960.75 1115.27,959.11 1123.60,956.20 C1127.10,954.98 1130.60,952.19 1134.10,951.00 C1138.27,949.58 1142.43,949.44 1146.60,947.80 C1150.10,946.43 1153.60,939.88 1157.10,939.50 C1159.90,939.20 1162.70,939.00 1165.50,939.00 C1168.27,939.00 1171.03,940.50 1173.80,940.50 C1175.53,940.50 1177.27,932.08 1179.00,929.00 C1180.40,926.51 1181.80,922.70 1183.20,922.70 C1184.97,922.70 1186.73,925.24 1188.50,927.00 C1192.00,930.49 1195.50,937.00 1199.00,941.60 C1201.77,945.24 1204.53,948.38 1207.30,952.00 C1210.10,955.66 1212.90,962.27 1215.70,963.50 C1219.87,965.33 1224.03,965.56 1228.20,966.60 C1231.00,967.30 1233.80,967.77 1236.60,968.70 C1240.07,969.85 1243.53,973.51 1247.00,974.00 C1251.20,974.59 1255.40,974.57 1259.60,975.00 C1266.57,975.71 1273.53,977.44 1280.50,978.20 C1292.00,979.45 1303.50,980.58 1315.00,981.00" fill="none" stroke="#8231a0" stroke-width="5.5" stroke-linejoin="round" stroke-linecap="butt"/>
<path d="M1078.30,971.90 C1086.43,970.82 1094.57,969.36 1102.70,967.70 C1111.07,965.99 1119.43,963.59 1127.80,961.40 C1135.47,959.39 1143.13,957.68 1150.80,955.10 C1155.00,953.69 1159.20,950.90 1163.40,949.90 C1167.60,948.90 1171.80,949.06 1176.00,947.80 C1178.07,947.18 1180.13,943.72 1182.20,942.60 C1183.93,941.66 1185.67,940.50 1187.40,940.50 C1190.53,940.50 1193.67,943.28 1196.80,945.70 C1199.60,947.86 1202.40,951.04 1205.20,956.20 C1206.60,958.78 1208.00,966.22 1209.40,968.70 C1210.80,971.18 1212.20,974.00 1213.60,974.00 C1216.37,974.00 1219.13,970.53 1221.90,969.80 C1224.70,969.06 1227.50,968.30 1230.30,968.30 C1232.40,968.30 1234.50,969.60 1236.60,970.80 C1238.67,971.98 1240.73,976.60 1242.80,977.10 C1245.60,977.78 1248.40,978.20 1251.20,978.20 C1255.40,978.20 1259.60,976.70 1263.80,976.70 C1267.27,976.70 1270.73,979.93 1274.20,980.20 C1279.80,980.64 1285.40,980.57 1291.00,980.90 C1299.00,981.36 1307.00,982.27 1315.00,983.40" fill="none" stroke="#dc590c" stroke-width="5.5" stroke-linejoin="round" stroke-linecap="butt"/>
<text transform="translate(393 812.6) scale(1.045 1)" font-size="31.5" font-weight="normal" fill="#8231a0"><tspan font-style="italic">I</tspan><tspan font-size="17.5" font-weight="normal" dy="1.3" dx="-0.5">m,post-JM</tspan></text>
<text transform="translate(402 850.5) scale(1.045 1)" font-size="30" font-weight="normal" font-style="normal" fill="#8231a0" text-anchor="start" >(150)</text>
<line x1="396.2" y1="843.1" x2="364.4" y2="856.5" stroke="#8231a0" stroke-width="3.7"/><path d="M346.0,864.3 L371.3,862.5 L364.4,856.5 L364.9,847.4 Z" fill="#8231a0"/>
<text transform="translate(396.3 900) scale(1.045 1)" font-size="31.5" font-weight="normal" fill="#dc590c"><tspan font-style="italic">I</tspan><tspan font-size="17.6" font-weight="normal" dy="1" dx="-1">m,pre-JM</tspan></text>
<text transform="translate(402 937.5) scale(1.045 1)" font-size="30" font-weight="normal" font-style="normal" fill="#dc590c" text-anchor="start" >(150)</text>
<line x1="396.2" y1="920.2" x2="379.1" y2="927.7" stroke="#dc590c" stroke-width="3.7"/><path d="M360.8,935.8 L386.1,933.6 L379.1,927.7 L379.5,918.6 Z" fill="#dc590c"/>
<line x1="228" y1="1042.4" x2="228" y2="1294" stroke="#000" stroke-width="3.8" />
<line x1="203" y1="1057.1" x2="228" y2="1057.1" stroke="#000" stroke-width="3.8" />
<text transform="translate(185.5 1073.3999999999999) scale(1.045 1)" font-size="39" font-weight="normal" font-style="normal" fill="#000" text-anchor="end" >20</text>
<line x1="203" y1="1116.4" x2="228" y2="1116.4" stroke="#000" stroke-width="3.8" />
<text transform="translate(185.5 1132.7) scale(1.045 1)" font-size="39" font-weight="normal" font-style="normal" fill="#000" text-anchor="end" >0</text>
<line x1="203" y1="1175.6" x2="228" y2="1175.6" stroke="#000" stroke-width="3.8" />
<text transform="translate(185.5 1191.8999999999999) scale(1.045 1)" font-size="39" font-weight="normal" font-style="normal" fill="#000" text-anchor="end" >-20</text>
<line x1="203" y1="1234.8" x2="228" y2="1234.8" stroke="#000" stroke-width="3.8" />
<text transform="translate(185.5 1251.1) scale(1.045 1)" font-size="39" font-weight="normal" font-style="normal" fill="#000" text-anchor="end" >-40</text>
<text transform="translate(116.5 1191) rotate(-90) scale(1.045 1)" font-size="40" font-weight="normal" font-style="normal" fill="#000" text-anchor="middle" >nA</text>
<line x1="228" y1="1116.4" x2="463.5" y2="1116.4" stroke="#000" stroke-width="2" stroke-dasharray="4 3.9"/>
<line x1="511.4" y1="1116.4" x2="747.3" y2="1116.4" stroke="#000" stroke-width="2" stroke-dasharray="4 3.9"/>
<line x1="486.3" y1="1116.4" x2="511.4" y2="1116.4" stroke="#000" stroke-width="3.8" />
<line x1="795" y1="1116.4" x2="1030.2" y2="1116.4" stroke="#000" stroke-width="2" stroke-dasharray="4 3.9"/>
<line x1="770.3" y1="1116.4" x2="795" y2="1116.4" stroke="#000" stroke-width="3.8" />
<line x1="1078.5" y1="1116.4" x2="1313" y2="1116.4" stroke="#000" stroke-width="2" stroke-dasharray="4 3.9"/>
<line x1="1053.6" y1="1116.4" x2="1078.5" y2="1116.4" stroke="#000" stroke-width="3.8" />
<text transform="translate(236 1038.7) scale(1.045 1)" font-size="39" font-weight="bold" fill="#000"><tspan font-style="italic">I</tspan><tspan font-size="22.5" font-weight="bold" dy="4" dx="-1">m,LM,</tspan></text>
<text transform="translate(234.5 1079.5) scale(1.045 1)" font-size="39" font-weight="bold" fill="#000"><tspan font-style="italic">I</tspan><tspan font-size="22.5" font-weight="bold" dy="3" dx="-1">Na,LM</tspan></text>
<path d="M228.00,1116.20 C260.33,1115.60 292.67,1115.60 325.00,1115.60 C327.17,1115.60 329.33,1117.24 331.50,1120.20 C332.77,1121.93 334.03,1132.27 335.30,1144.00 C336.17,1152.03 337.03,1170.13 337.90,1185.70 C338.93,1204.26 339.97,1232.72 341.00,1249.50 C341.87,1263.57 342.73,1284.70 343.60,1284.70 C344.67,1284.70 345.73,1264.88 346.80,1252.70 C348.07,1238.23 349.33,1214.41 350.60,1201.60 C352.20,1185.42 353.80,1171.96 355.40,1163.30 C357.53,1151.75 359.67,1142.84 361.80,1137.70 C365.00,1129.99 368.20,1123.78 371.40,1121.80 C376.20,1118.83 381.00,1116.66 385.80,1116.60 C411.70,1116.26 437.60,1116.20 463.50,1116.20" fill="none" stroke="#d02a19" stroke-width="5.5" stroke-linejoin="round" stroke-linecap="butt"/>
<path d="M228.00,1116.20 C246.53,1116.20 265.07,1115.42 283.60,1113.80 C289.97,1113.24 296.33,1110.58 302.70,1107.40 C306.97,1105.27 311.23,1101.51 315.50,1096.20 C318.67,1092.26 321.83,1084.65 325.00,1077.00 C327.17,1071.76 329.33,1062.85 331.50,1058.00 C332.77,1055.17 334.03,1050.90 335.30,1050.90 C336.70,1050.90 338.10,1053.80 339.50,1061.00 C340.00,1063.57 340.50,1095.41 341.00,1105.80 C342.07,1127.96 343.13,1140.17 344.20,1153.70 C345.27,1167.23 346.33,1178.50 347.40,1188.90 C347.93,1194.10 348.47,1203.20 349.00,1203.20 C350.07,1203.20 351.13,1196.13 352.20,1188.90 C353.27,1181.67 354.33,1148.15 355.40,1144.10 C357.53,1136.01 359.67,1134.92 361.80,1131.40 C364.47,1126.99 367.13,1121.58 369.80,1120.20 C374.07,1118.00 378.33,1116.45 382.60,1116.40 C409.57,1116.06 436.53,1116.00 463.50,1116.00" fill="none" stroke="#6e696d" stroke-width="5.5" stroke-linejoin="round" stroke-linecap="butt"/>
<path d="M511.40,1117.60 C544.67,1115.70 577.93,1115.70 611.20,1115.70 C613.63,1115.70 616.07,1117.06 618.50,1118.80 C620.10,1119.94 621.70,1123.38 623.30,1127.30 C624.93,1131.30 626.57,1139.51 628.20,1146.80 C629.80,1153.95 631.40,1164.31 633.00,1171.20 C634.47,1177.52 635.93,1187.70 637.40,1187.70 C638.80,1187.70 640.20,1182.10 641.60,1178.50 C643.63,1173.27 645.67,1164.93 647.70,1159.00 C650.13,1151.90 652.57,1143.73 655.00,1139.50 C658.23,1133.88 661.47,1129.96 664.70,1127.30 C668.77,1123.96 672.83,1120.87 676.90,1120.00 C685.00,1118.26 693.10,1117.34 701.20,1117.10 C716.60,1116.65 732.00,1116.40 747.40,1116.40" fill="none" stroke="#4f9fcc" stroke-width="5.5" stroke-linejoin="round" stroke-linecap="butt"/>
<path d="M511.40,1116.40 C526.00,1116.23 540.60,1114.50 555.20,1112.70 C563.30,1111.70 571.40,1110.14 579.50,1107.90 C585.17,1106.33 590.83,1103.76 596.50,1100.60 C599.77,1098.78 603.03,1096.14 606.30,1093.30 C607.93,1091.88 609.57,1089.64 611.20,1088.40 C613.20,1086.89 615.20,1086.45 617.20,1084.80 C619.07,1083.26 620.93,1077.50 622.80,1077.50 C624.20,1077.50 625.60,1079.60 627.00,1082.30 C628.60,1085.39 630.20,1105.71 631.80,1115.20 C633.83,1127.27 635.87,1141.19 637.90,1146.80 C639.13,1150.20 640.37,1154.10 641.60,1154.10 C643.20,1154.10 644.80,1151.61 646.40,1149.30 C648.43,1146.36 650.47,1135.01 652.50,1132.20 C655.77,1127.69 659.03,1126.08 662.30,1123.70 C665.53,1121.34 668.77,1118.26 672.00,1117.60 C677.67,1116.45 683.33,1115.70 689.00,1115.70 C708.47,1115.70 727.93,1115.70 747.40,1117.10" fill="none" stroke="#6e696d" stroke-width="5.5" stroke-linejoin="round" stroke-linecap="butt"/>
<path d="M795.30,1117.80 C834.27,1116.90 873.23,1116.90 912.20,1116.90 C916.60,1116.90 921.00,1120.20 925.40,1121.80 C930.57,1123.68 935.73,1126.00 940.90,1127.30 C944.57,1128.22 948.23,1129.50 951.90,1129.50 C957.77,1129.50 963.63,1128.19 969.50,1127.30 C976.87,1126.18 984.23,1124.01 991.60,1122.90 C1004.47,1120.96 1017.33,1119.22 1030.20,1118.40" fill="none" stroke="#2c3686" stroke-width="5.5" stroke-linejoin="round" stroke-linecap="butt"/>
<path d="M795.30,1114.00 C809.27,1112.76 823.23,1111.53 837.20,1110.30 C848.23,1109.33 859.27,1108.56 870.30,1107.40 C876.17,1106.78 882.03,1106.36 887.90,1105.20 C890.83,1104.62 893.77,1101.90 896.70,1101.90 C900.40,1101.90 904.10,1104.10 907.80,1104.10 C910.00,1104.10 912.20,1096.40 914.40,1096.40 C916.60,1096.40 918.80,1100.16 921.00,1101.90 C923.93,1104.22 926.87,1108.50 929.80,1108.50 C932.00,1108.50 934.20,1106.80 936.40,1106.80 C938.60,1106.80 940.80,1112.65 943.00,1115.10 C945.23,1117.59 947.47,1121.80 949.70,1121.80 C952.63,1121.80 955.57,1120.70 958.50,1120.70 C962.17,1120.70 965.83,1122.90 969.50,1122.90 C976.87,1122.90 984.23,1121.39 991.60,1120.70 C1004.47,1119.49 1017.33,1118.34 1030.20,1117.30" fill="none" stroke="#6e696d" stroke-width="5.5" stroke-linejoin="round" stroke-linecap="butt"/>
<path d="M1078.30,1117.00 C1157.20,1117.00 1236.10,1117.00 1315.00,1117.00" fill="none" stroke="#35972f" stroke-width="5.5" stroke-linejoin="round" stroke-linecap="butt"/>
<path d="M1078.30,1112.90 C1086.43,1112.69 1094.57,1112.28 1102.70,1111.80 C1111.07,1111.31 1119.43,1109.70 1127.80,1109.70 C1134.07,1109.70 1140.33,1110.20 1146.60,1110.20 C1150.10,1110.20 1153.60,1107.20 1157.10,1107.20 C1161.97,1107.20 1166.83,1109.70 1171.70,1109.70 C1175.20,1109.70 1178.70,1101.40 1182.20,1101.40 C1185.00,1101.40 1187.80,1107.44 1190.60,1108.70 C1194.07,1110.27 1197.53,1111.80 1201.00,1111.80 C1204.13,1111.80 1207.27,1105.10 1210.40,1105.10 C1212.87,1105.10 1215.33,1109.57 1217.80,1110.80 C1221.27,1112.52 1224.73,1114.50 1228.20,1114.50 C1232.73,1114.50 1237.27,1111.40 1241.80,1111.40 C1247.73,1111.40 1253.67,1115.00 1259.60,1115.00 C1264.47,1115.00 1269.33,1113.50 1274.20,1113.50 C1279.80,1113.50 1285.40,1115.00 1291.00,1115.00 C1299.00,1115.00 1307.00,1115.00 1315.00,1115.00" fill="none" stroke="#6e696d" stroke-width="5.5" stroke-linejoin="round" stroke-linecap="butt"/>
<text transform="translate(387 1058.5) scale(1.045 1)" font-size="32.5" font-weight="normal" fill="#6e696d"><tspan font-style="italic">I</tspan><tspan font-size="17.5" font-weight="normal" dy="1" dx="0">m,LM</tspan></text>
<text transform="translate(377 1095.3) scale(1.045 1)" font-size="30" font-weight="normal" font-style="normal" fill="#6e696d" text-anchor="start" >(150)</text>
<line x1="374.7" y1="1064.0" x2="360.5" y2="1070.3" stroke="#6e696d" stroke-width="3.7"/><path d="M342.2,1078.4 L367.5,1076.2 L360.5,1070.3 L360.8,1061.2 Z" fill="#6e696d"/>
<text transform="translate(389 1271.7) scale(1.045 1)" font-size="32.3" font-weight="normal" fill="#d02a19"><tspan font-style="italic">I</tspan><tspan font-size="17.6" font-weight="normal" dy="1.3" dx="-0.5">Na,LM</tspan></text>
<text transform="translate(383.3 1309.6) scale(1.045 1)" font-size="30" font-weight="normal" font-style="normal" fill="#d02a19" text-anchor="start" >(150)</text>
<line x1="382.2" y1="1257.1" x2="369.0" y2="1251.1" stroke="#d02a19" stroke-width="3.7"/><path d="M350.8,1242.8 L369.2,1260.2 L369.0,1251.1 L376.0,1245.3 Z" fill="#d02a19"/>
<line x1="228" y1="1320.3" x2="228" y2="1572.2" stroke="#000" stroke-width="3.8" />
<line x1="203" y1="1334.2" x2="228" y2="1334.2" stroke="#000" stroke-width="3.8" />
<text transform="translate(185.5 1347.1000000000001) scale(1.045 1)" font-size="39" font-weight="normal" font-style="normal" fill="#000" text-anchor="end" >0</text>
<line x1="203" y1="1446" x2="228" y2="1446" stroke="#000" stroke-width="3.8" />
<text transform="translate(185.5 1458.9) scale(1.045 1)" font-size="39" font-weight="normal" font-style="normal" fill="#000" text-anchor="end" >-4</text>
<line x1="203" y1="1558.1" x2="228" y2="1558.1" stroke="#000" stroke-width="3.8" />
<text transform="translate(185.5 1571.0) scale(1.045 1)" font-size="39" font-weight="normal" font-style="normal" fill="#000" text-anchor="end" >-8</text>
<text transform="translate(116.5 1451.4) rotate(-90) scale(1.045 1)" font-size="40" font-weight="normal" font-style="normal" fill="#000" text-anchor="middle" >nA</text>
<line x1="228" y1="1334.2" x2="463.5" y2="1334.2" stroke="#000" stroke-width="2" stroke-dasharray="4 3.9"/>
<line x1="511.4" y1="1334.2" x2="747.3" y2="1334.2" stroke="#000" stroke-width="2" stroke-dasharray="4 3.9"/>
<line x1="486.3" y1="1334.2" x2="511.4" y2="1334.2" stroke="#000" stroke-width="3.8" />
<line x1="795" y1="1334.2" x2="1030.2" y2="1334.2" stroke="#000" stroke-width="2" stroke-dasharray="4 3.9"/>
<line x1="770.3" y1="1334.2" x2="795" y2="1334.2" stroke="#000" stroke-width="3.8" />
<line x1="1078.5" y1="1334.2" x2="1313" y2="1334.2" stroke="#000" stroke-width="2" stroke-dasharray="4 3.9"/>
<line x1="1053.6" y1="1334.2" x2="1078.5" y2="1334.2" stroke="#000" stroke-width="3.8" />
<text transform="translate(239.5 1315) scale(1.045 1)" font-size="39" font-weight="bold" fill="#000"><tspan font-style="italic">I</tspan><tspan font-size="22.5" font-weight="bold" dy="3" dx="-1">Na,JM</tspan></text>
<path d="M228.00,1334.20 C262.33,1334.20 296.67,1334.20 331.00,1334.20 C332.67,1334.20 334.33,1336.29 336.00,1340.20 C337.13,1342.86 338.27,1371.02 339.40,1390.40 C340.50,1409.21 341.60,1435.82 342.70,1457.30 C343.47,1472.27 344.23,1500.80 345.00,1500.80 C345.90,1500.80 346.80,1487.78 347.70,1477.30 C348.80,1464.49 349.90,1428.13 351.00,1417.10 C353.27,1394.37 355.53,1382.01 357.80,1373.60 C361.13,1361.24 364.47,1352.92 367.80,1348.50 C372.27,1342.57 376.73,1337.15 381.20,1336.80 C408.50,1334.65 435.80,1334.20 463.10,1334.20" fill="none" stroke="#dc590c" stroke-width="5.5" stroke-linejoin="round" stroke-linecap="butt"/>
<path d="M228.00,1334.20 C264.57,1334.20 301.13,1334.20 337.70,1334.20 C339.37,1334.20 341.03,1336.99 342.70,1343.50 C343.47,1346.49 344.23,1385.06 345.00,1407.00 C345.90,1432.76 346.80,1487.40 347.70,1487.40 C348.80,1487.40 349.90,1467.79 351.00,1457.30 C352.67,1441.41 354.33,1418.89 356.00,1407.00 C358.27,1390.83 360.53,1377.97 362.80,1370.30 C365.57,1360.93 368.33,1353.89 371.10,1350.20 C375.57,1344.25 380.03,1339.08 384.50,1338.50 C410.70,1335.09 436.90,1334.20 463.10,1334.20" fill="none" stroke="#8231a0" stroke-width="5.5" stroke-linejoin="round" stroke-linecap="butt"/>
<path d="M511.40,1334.30 C546.93,1334.30 582.47,1334.34 618.00,1335.00 C619.67,1335.03 621.33,1337.98 623.00,1342.60 C624.27,1346.11 625.53,1367.13 626.80,1385.30 C628.07,1403.47 629.33,1437.79 630.60,1460.60 C631.87,1483.41 633.13,1523.30 634.40,1523.30 C635.63,1523.30 636.87,1508.90 638.10,1498.20 C639.77,1483.74 641.43,1453.89 643.10,1435.50 C644.80,1416.74 646.50,1395.26 648.20,1385.30 C650.70,1370.65 653.20,1360.34 655.70,1355.20 C659.87,1346.63 664.03,1340.39 668.20,1338.90 C675.73,1336.21 683.27,1334.69 690.80,1334.60 C709.63,1334.38 728.47,1334.30 747.30,1334.30" fill="none" stroke="#dc590c" stroke-width="5.5" stroke-linejoin="round" stroke-linecap="butt"/>
<path d="M511.40,1334.30 C548.60,1334.30 585.80,1334.34 623.00,1335.00 C625.10,1335.04 627.20,1337.70 629.30,1342.60 C630.57,1345.56 631.83,1365.11 633.10,1385.30 C633.93,1398.58 634.77,1427.97 635.60,1448.00 C636.43,1468.03 637.27,1505.70 638.10,1505.70 C639.37,1505.70 640.63,1495.23 641.90,1485.70 C643.17,1476.17 644.43,1447.68 645.70,1435.50 C647.77,1415.62 649.83,1400.13 651.90,1390.30 C654.83,1376.35 657.77,1365.53 660.70,1360.20 C665.73,1351.05 670.77,1345.16 675.80,1342.60 C682.47,1339.20 689.13,1336.82 695.80,1336.30 C712.97,1334.96 730.13,1334.30 747.30,1334.30" fill="none" stroke="#8231a0" stroke-width="5.5" stroke-linejoin="round" stroke-linecap="butt"/>
<path d="M794.80,1334.30 C831.00,1334.30 867.20,1334.43 903.40,1335.40 C907.07,1335.50 910.73,1337.46 914.40,1340.90 C916.60,1342.97 918.80,1352.91 921.00,1365.10 C922.47,1373.23 923.93,1391.55 925.40,1409.20 C926.87,1426.85 928.33,1454.08 929.80,1475.40 C931.13,1494.78 932.47,1531.70 933.80,1531.70 C935.03,1531.70 936.27,1509.24 937.50,1497.50 C939.37,1479.73 941.23,1455.01 943.10,1442.30 C946.03,1422.33 948.97,1408.38 951.90,1398.20 C955.57,1385.47 959.23,1375.43 962.90,1369.50 C968.07,1361.14 973.23,1355.54 978.40,1351.90 C985.00,1347.24 991.60,1343.99 998.20,1342.00 C1008.87,1338.78 1019.53,1335.66 1030.20,1335.40" fill="none" stroke="#dc590c" stroke-width="5.5" stroke-linejoin="round" stroke-linecap="butt"/>
<path d="M794.80,1334.30 C834.67,1334.30 874.53,1334.40 914.40,1335.40 C917.70,1335.48 921.00,1338.19 924.30,1343.10 C926.13,1345.83 927.97,1358.44 929.80,1376.20 C930.90,1386.86 932.00,1418.88 933.10,1442.30 C934.20,1465.72 935.30,1517.30 936.40,1517.30 C937.53,1517.30 938.67,1505.05 939.80,1497.50 C941.63,1485.28 943.47,1464.93 945.30,1453.40 C948.23,1434.96 951.17,1419.37 954.10,1409.20 C957.77,1396.49 961.43,1387.47 965.10,1380.60 C970.27,1370.92 975.43,1362.71 980.60,1358.50 C987.93,1352.53 995.27,1348.82 1002.60,1346.40 C1012.17,1343.24 1021.73,1340.27 1031.30,1339.80" fill="none" stroke="#8231a0" stroke-width="5.5" stroke-linejoin="round" stroke-linecap="butt"/>
<path d="M1078.30,1334.30 C1107.37,1334.30 1136.43,1334.69 1165.50,1336.10 C1171.07,1336.37 1176.63,1338.39 1182.20,1341.40 C1185.00,1342.91 1187.80,1346.24 1190.60,1351.80 C1192.67,1355.91 1194.73,1366.80 1196.80,1379.00 C1198.20,1387.26 1199.60,1399.46 1201.00,1414.60 C1202.40,1429.74 1203.80,1457.26 1205.20,1477.30 C1206.47,1495.43 1207.73,1529.60 1209.00,1529.60 C1210.17,1529.60 1211.33,1517.24 1212.50,1508.70 C1214.27,1495.77 1216.03,1470.62 1217.80,1456.40 C1219.87,1439.76 1221.93,1423.06 1224.00,1414.60 C1227.50,1400.28 1231.00,1391.59 1234.50,1385.30 C1239.37,1376.55 1244.23,1370.58 1249.10,1366.50 C1256.07,1360.65 1263.03,1356.69 1270.00,1353.90 C1277.00,1351.09 1284.00,1349.13 1291.00,1347.60 C1299.00,1345.85 1307.00,1344.32 1315.00,1343.50" fill="none" stroke="#dc590c" stroke-width="5.5" stroke-linejoin="round" stroke-linecap="butt"/>
<path d="M1078.30,1334.30 C1112.93,1334.30 1147.57,1334.38 1182.20,1335.10 C1185.70,1335.17 1189.20,1337.92 1192.70,1341.40 C1195.47,1344.15 1198.23,1350.40 1201.00,1362.30 C1202.40,1368.32 1203.80,1385.10 1205.20,1404.10 C1206.23,1418.12 1207.27,1445.73 1208.30,1466.80 C1209.20,1485.15 1210.10,1522.30 1211.00,1522.30 C1212.20,1522.30 1213.40,1514.74 1214.60,1508.70 C1216.33,1499.98 1218.07,1477.67 1219.80,1466.80 C1222.60,1449.25 1225.40,1434.65 1228.20,1425.00 C1231.70,1412.93 1235.20,1403.87 1238.70,1397.80 C1244.27,1388.15 1249.83,1381.94 1255.40,1376.90 C1262.37,1370.59 1269.33,1365.51 1276.30,1362.30 C1289.20,1356.35 1302.10,1350.78 1315.00,1349.70" fill="none" stroke="#8231a0" stroke-width="5.5" stroke-linejoin="round" stroke-linecap="butt"/>
<text transform="translate(385.5 1531) scale(1.045 1)" font-size="30.6" font-weight="normal" font-style="normal" fill="#dc590c" text-anchor="start" >pre-JM</text>
<text transform="translate(394 1556.5) scale(1.045 1)" font-size="30" font-weight="normal" font-style="normal" fill="#dc590c" text-anchor="start" >(150)</text>
<line x1="376.2" y1="1517.5" x2="365.5" y2="1511.1" stroke="#dc590c" stroke-width="3.7"/><path d="M348.4,1500.8 L364.8,1520.2 L365.5,1511.1 L373.2,1506.1 Z" fill="#dc590c"/>
<text transform="translate(677.5 1499) scale(1.045 1)" font-size="31" font-weight="normal" font-style="normal" fill="#8231a0" text-anchor="start" >post-JM</text>
<text transform="translate(699 1528) scale(1.045 1)" font-size="30" font-weight="normal" font-style="normal" fill="#8231a0" text-anchor="start" >(151)</text>
<line x1="674.5" y1="1488.2" x2="663.7" y2="1483.0" stroke="#8231a0" stroke-width="3.7"/><path d="M645.7,1474.4 L663.8,1492.2 L663.7,1483.0 L670.9,1477.4 Z" fill="#8231a0"/>
<line x1="228" y1="1603.8" x2="228" y2="1854.4" stroke="#000" stroke-width="3.8" />
<line x1="203" y1="1625" x2="228" y2="1625" stroke="#000" stroke-width="3.8" />
<text transform="translate(185.5 1636.8) scale(1.045 1)" font-size="39" font-weight="normal" font-style="normal" fill="#000" text-anchor="end" >0</text>
<line x1="203" y1="1708.9" x2="228" y2="1708.9" stroke="#000" stroke-width="3.8" />
<text transform="translate(185.5 1720.7) scale(1.045 1)" font-size="39" font-weight="normal" font-style="normal" fill="#000" text-anchor="end" >-20</text>
<line x1="203" y1="1792.7" x2="228" y2="1792.7" stroke="#000" stroke-width="3.8" />
<text transform="translate(185.5 1804.5) scale(1.045 1)" font-size="39" font-weight="normal" font-style="normal" fill="#000" text-anchor="end" >-40</text>
<text transform="translate(116.5 1709.5) rotate(-90) scale(1.045 1)" font-size="40" font-weight="normal" font-style="normal" fill="#000" text-anchor="middle" >mV</text>
<line x1="228" y1="1625.2" x2="463.5" y2="1625.2" stroke="#000" stroke-width="2" stroke-dasharray="4 3.9"/>
<line x1="511.4" y1="1625.2" x2="747.3" y2="1625.2" stroke="#000" stroke-width="2" stroke-dasharray="4 3.9"/>
<line x1="486.3" y1="1625.2" x2="511.4" y2="1625.2" stroke="#000" stroke-width="3.8" />
<line x1="795" y1="1625.2" x2="1030.2" y2="1625.2" stroke="#000" stroke-width="2" stroke-dasharray="4 3.9"/>
<line x1="770.3" y1="1625.2" x2="795" y2="1625.2" stroke="#000" stroke-width="3.8" />
<line x1="1078.5" y1="1625.2" x2="1313" y2="1625.2" stroke="#000" stroke-width="2" stroke-dasharray="4 3.9"/>
<line x1="1053.6" y1="1625.2" x2="1078.5" y2="1625.2" stroke="#000" stroke-width="3.8" />
<text transform="translate(243.5 1591) scale(1.045 1)" font-size="39" font-weight="bold" fill="#000"><tspan font-style="italic">V</tspan><tspan font-size="21.5" font-weight="bold" dy="4" dx="-3">j,150-151</tspan></text>
<path d="M228.30,1624.60 C244.70,1624.60 261.10,1624.24 277.50,1623.60 C285.30,1623.29 293.10,1621.79 300.90,1620.20 C307.60,1618.83 314.30,1616.39 321.00,1613.50 C324.90,1611.82 328.80,1608.78 332.70,1606.80 C334.57,1605.85 336.43,1604.20 338.30,1604.20 C339.77,1604.20 341.23,1606.20 342.70,1610.20 C343.47,1612.29 344.23,1629.66 345.00,1643.60 C345.90,1659.97 346.80,1695.62 347.70,1710.50 C348.60,1725.38 349.50,1744.00 350.40,1744.00 C351.73,1744.00 353.07,1727.25 354.40,1717.20 C356.07,1704.64 357.73,1682.98 359.40,1673.70 C361.63,1661.27 363.87,1652.37 366.10,1647.00 C369.47,1638.91 372.83,1632.28 376.20,1630.30 C381.20,1627.35 386.20,1625.30 391.20,1625.20 C415.17,1624.71 439.13,1624.60 463.10,1624.60" fill="none" stroke="#d02a19" stroke-width="5.5" stroke-linejoin="round" stroke-linecap="butt"/>
<path d="M512.20,1625.10 C527.40,1624.72 542.60,1623.96 557.80,1623.10 C568.70,1622.48 579.60,1621.80 590.50,1620.60 C597.17,1619.87 603.83,1618.32 610.50,1617.10 C614.87,1616.30 619.23,1614.60 623.60,1614.60 C625.10,1614.60 626.60,1616.25 628.10,1618.90 C629.37,1621.14 630.63,1637.89 631.90,1652.70 C633.13,1667.12 634.37,1695.14 635.60,1715.50 C637.03,1739.16 638.47,1784.50 639.90,1784.50 C640.97,1784.50 642.03,1773.40 643.10,1765.70 C644.80,1753.43 646.50,1728.41 648.20,1715.50 C650.70,1696.52 653.20,1679.94 655.70,1670.30 C659.03,1657.45 662.37,1647.65 665.70,1642.70 C669.90,1636.46 674.10,1631.71 678.30,1630.20 C685.83,1627.49 693.37,1625.77 700.90,1625.60 C716.37,1625.25 731.83,1625.10 747.30,1625.10" fill="none" stroke="#4f9fcc" stroke-width="5.5" stroke-linejoin="round" stroke-linecap="butt"/>
<path d="M795.30,1624.20 C812.93,1624.20 830.57,1623.67 848.20,1623.10 C859.97,1622.72 871.73,1621.63 883.50,1620.90 C889.40,1620.53 895.30,1619.80 901.20,1619.80 C905.97,1619.80 910.73,1620.12 915.50,1620.90 C917.33,1621.20 919.17,1623.57 921.00,1626.40 C922.83,1629.23 924.67,1636.39 926.50,1645.10 C927.97,1652.07 929.43,1662.70 930.90,1678.20 C932.00,1689.83 933.10,1711.04 934.20,1733.40 C934.93,1748.31 935.67,1775.61 936.40,1788.50 C937.13,1801.39 937.87,1818.30 938.60,1818.30 C939.73,1818.30 940.87,1799.04 942.00,1788.50 C943.83,1771.45 945.67,1745.78 947.50,1733.40 C949.70,1718.55 951.90,1708.25 954.10,1700.30 C957.03,1689.71 959.97,1681.82 962.90,1676.00 C967.30,1667.27 971.70,1661.04 976.10,1656.20 C981.27,1650.52 986.43,1646.18 991.60,1642.90 C997.47,1639.17 1003.33,1635.80 1009.20,1634.10 C1016.57,1631.97 1023.93,1629.93 1031.30,1629.70" fill="none" stroke="#2c3686" stroke-width="5.5" stroke-linejoin="round" stroke-linecap="butt"/>
<path d="M1079.30,1626.00 C1094.07,1625.44 1108.83,1624.94 1123.60,1624.50 C1136.17,1624.13 1148.73,1623.50 1161.30,1623.50 C1167.53,1623.50 1173.77,1624.96 1180.00,1625.60 C1181.37,1625.74 1182.73,1625.78 1184.10,1626.00 C1186.17,1626.34 1188.23,1628.41 1190.30,1630.50 C1192.00,1632.22 1193.70,1635.09 1195.40,1638.70 C1196.77,1641.60 1198.13,1645.49 1199.50,1651.10 C1200.37,1654.66 1201.23,1660.53 1202.10,1666.50 C1202.93,1672.24 1203.77,1677.73 1204.60,1687.00 C1205.13,1692.93 1205.67,1703.07 1206.20,1712.70 C1206.70,1721.72 1207.20,1733.48 1207.70,1743.50 C1208.40,1757.53 1209.10,1773.67 1209.80,1784.50 C1210.47,1794.82 1211.13,1802.79 1211.80,1810.20 C1212.33,1816.13 1212.87,1826.00 1213.40,1826.00 C1214.07,1826.00 1214.73,1815.58 1215.40,1810.20 C1216.43,1801.85 1217.47,1793.20 1218.50,1784.50 C1219.70,1774.40 1220.90,1762.39 1222.10,1753.70 C1223.47,1743.80 1224.83,1734.86 1226.20,1728.10 C1227.90,1719.70 1229.60,1712.77 1231.30,1707.50 C1233.37,1701.09 1235.43,1695.94 1237.50,1692.10 C1239.57,1688.26 1241.63,1685.39 1243.70,1682.90 C1246.43,1679.60 1249.17,1677.31 1251.90,1674.70 C1255.30,1671.45 1258.70,1668.29 1262.10,1665.40 C1265.53,1662.48 1268.97,1659.30 1272.40,1657.20 C1275.83,1655.10 1279.27,1653.48 1282.70,1652.10 C1287.83,1650.04 1292.97,1648.72 1298.10,1647.00 C1303.73,1645.12 1309.37,1643.22 1315.00,1641.30" fill="none" stroke="#35972f" stroke-width="5.5" stroke-linejoin="round" stroke-linecap="butt"/>
<line x1="228" y1="1878.4" x2="228" y2="2130.9" stroke="#000" stroke-width="3.8" />
<line x1="203" y1="1912.5" x2="228" y2="1912.5" stroke="#000" stroke-width="3.8" />
<text transform="translate(185.5 1928.7) scale(1.045 1)" font-size="39" font-weight="normal" font-style="normal" fill="#000" text-anchor="end" >30</text>
<line x1="203" y1="1962.8" x2="228" y2="1962.8" stroke="#000" stroke-width="3.8" />
<text transform="translate(185.5 1979.0) scale(1.045 1)" font-size="39" font-weight="normal" font-style="normal" fill="#000" text-anchor="end" >0</text>
<line x1="203" y1="2013" x2="228" y2="2013" stroke="#000" stroke-width="3.8" />
<text transform="translate(185.5 2029.2) scale(1.045 1)" font-size="39" font-weight="normal" font-style="normal" fill="#000" text-anchor="end" >-30</text>
<line x1="203" y1="2063.3" x2="228" y2="2063.3" stroke="#000" stroke-width="3.8" />
<text transform="translate(185.5 2079.5) scale(1.045 1)" font-size="39" font-weight="normal" font-style="normal" fill="#000" text-anchor="end" >-60</text>
<line x1="203" y1="2113.6" x2="228" y2="2113.6" stroke="#000" stroke-width="3.8" />
<text transform="translate(185.5 2129.7999999999997) scale(1.045 1)" font-size="39" font-weight="normal" font-style="normal" fill="#000" text-anchor="end" >-90</text>
<text transform="translate(116.5 2042.4) rotate(-90) scale(1.045 1)" font-size="40" font-weight="normal" font-style="normal" fill="#000" text-anchor="middle" >mV</text>
<line x1="228" y1="1962.8" x2="463.5" y2="1962.8" stroke="#000" stroke-width="2" stroke-dasharray="4 3.9"/>
<line x1="511.4" y1="1962.8" x2="747.3" y2="1962.8" stroke="#000" stroke-width="2" stroke-dasharray="4 3.9"/>
<line x1="486.3" y1="1962.8" x2="511.4" y2="1962.8" stroke="#000" stroke-width="3.8" />
<line x1="795" y1="1962.8" x2="1030.2" y2="1962.8" stroke="#000" stroke-width="2" stroke-dasharray="4 3.9"/>
<line x1="770.3" y1="1962.8" x2="795" y2="1962.8" stroke="#000" stroke-width="3.8" />
<line x1="1078.5" y1="1962.8" x2="1313" y2="1962.8" stroke="#000" stroke-width="2" stroke-dasharray="4 3.9"/>
<line x1="1053.6" y1="1962.8" x2="1078.5" y2="1962.8" stroke="#000" stroke-width="3.8" />
<text transform="translate(259 1946) scale(1.045 1)" font-size="39" font-weight="bold" fill="#000"><tspan font-style="italic">V</tspan><tspan font-size="22.5" font-weight="bold" dy="2" dx="-2">i</tspan></text>
<path d="M228.00,2109.20 C244.50,2109.20 261.00,2108.98 277.50,2108.50 C285.30,2108.27 293.10,2106.81 300.90,2104.50 C305.37,2103.17 309.83,2098.99 314.30,2094.20 C318.20,2090.02 322.10,2083.81 326.00,2074.10 C328.23,2068.54 330.47,2059.19 332.70,2047.40 C334.60,2037.37 336.50,2019.29 338.40,2003.90 C339.83,1992.29 341.27,1974.43 342.70,1967.00 C344.37,1958.36 346.03,1951.95 347.70,1948.70 C351.07,1942.14 354.43,1938.04 357.80,1936.30 C364.47,1932.86 371.13,1931.44 377.80,1930.30 C388.97,1928.39 400.13,1927.74 411.30,1926.50 C428.57,1924.59 445.83,1922.71 463.10,1920.90" fill="none" stroke="#6e696d" stroke-width="5.5" stroke-linejoin="round" stroke-linecap="butt"/>
<path d="M228.00,2109.20 C244.50,2109.20 261.00,2109.09 277.50,2108.80 C285.30,2108.67 293.10,2107.03 300.90,2104.90 C306.47,2103.38 312.03,2099.55 317.60,2094.20 C320.93,2090.99 324.27,2085.57 327.60,2077.50 C329.83,2072.09 332.07,2061.86 334.30,2050.70 C336.33,2040.54 338.37,2024.58 340.40,2010.50 C341.93,1999.88 343.47,1986.50 345.00,1977.10 C346.47,1968.11 347.93,1958.10 349.40,1953.70 C351.63,1947.00 353.87,1942.55 356.10,1940.30 C360.00,1936.37 363.90,1933.99 367.80,1932.90 C382.30,1928.83 396.80,1927.99 411.30,1926.20 C428.57,1924.06 445.83,1922.18 463.10,1920.90" fill="none" stroke="#dc590c" stroke-width="5.5" stroke-linejoin="round" stroke-linecap="butt"/>
<path d="M228.00,2109.20 C244.50,2109.20 261.00,2109.20 277.50,2109.20 C285.30,2109.20 293.10,2107.67 300.90,2105.90 C306.47,2104.63 312.03,2101.72 317.60,2097.50 C320.93,2094.97 324.27,2090.27 327.60,2084.20 C330.40,2079.10 333.20,2070.84 336.00,2060.70 C338.23,2052.61 340.47,2040.16 342.70,2027.30 C344.37,2017.70 346.03,2004.95 347.70,1993.80 C349.37,1982.65 351.03,1966.69 352.70,1960.40 C354.40,1953.98 356.10,1949.96 357.80,1947.00 C360.00,1943.17 362.20,1939.89 364.40,1938.60 C370.00,1935.32 375.60,1934.34 381.20,1932.90 C391.23,1930.32 401.27,1928.41 411.30,1926.90 C428.57,1924.31 445.83,1921.99 463.10,1920.90" fill="none" stroke="#8231a0" stroke-width="5.5" stroke-linejoin="round" stroke-linecap="butt"/>
<path d="M511.40,2108.50 C522.70,2108.35 534.00,2107.21 545.30,2106.00 C553.67,2105.11 562.03,2103.78 570.40,2101.50 C574.57,2100.37 578.73,2098.05 582.90,2095.70 C589.60,2091.93 596.30,2087.66 603.00,2080.60 C607.17,2076.21 611.33,2069.01 615.50,2060.50 C618.87,2053.62 622.23,2043.15 625.60,2032.90 C628.53,2023.97 631.47,2010.89 634.40,2002.80 C637.30,1994.81 640.20,1987.11 643.10,1982.70 C647.30,1976.32 651.50,1971.44 655.70,1968.90 C660.73,1965.85 665.77,1964.01 670.80,1962.70 C680.53,1960.18 690.27,1959.64 700.00,1957.50 C715.77,1954.03 731.53,1949.13 747.30,1943.10" fill="none" stroke="#6e696d" stroke-width="5.5" stroke-linejoin="round" stroke-linecap="butt"/>
<path d="M511.40,2108.50 C522.70,2108.48 534.00,2107.50 545.30,2106.50 C553.67,2105.76 562.03,2104.53 570.40,2102.50 C577.10,2100.88 583.80,2097.18 590.50,2093.10 C596.33,2089.55 602.17,2085.00 608.00,2078.10 C612.20,2073.13 616.40,2064.71 620.60,2055.50 C623.93,2048.19 627.27,2037.10 630.60,2027.90 C633.93,2018.70 637.27,2008.54 640.60,2000.30 C643.97,1991.98 647.33,1982.10 650.70,1977.70 C654.87,1972.25 659.03,1968.10 663.20,1966.40 C669.90,1963.67 676.60,1963.11 683.30,1961.40 C695.87,1958.18 708.43,1955.04 721.00,1951.40 C729.77,1948.86 738.53,1946.05 747.30,1943.10" fill="none" stroke="#dc590c" stroke-width="5.5" stroke-linejoin="round" stroke-linecap="butt"/>
<path d="M511.40,2109.50 C522.70,2109.17 534.00,2108.14 545.30,2107.00 C553.67,2106.16 562.03,2105.03 570.40,2103.20 C577.10,2101.73 583.80,2099.23 590.50,2095.70 C595.50,2093.07 600.50,2088.40 605.50,2083.10 C609.67,2078.68 613.83,2072.40 618.00,2065.50 C621.37,2059.93 624.73,2052.95 628.10,2045.50 C631.43,2038.12 634.77,2028.73 638.10,2020.40 C641.47,2011.99 644.83,2002.11 648.20,1995.30 C651.13,1989.37 654.07,1983.54 657.00,1980.20 C661.60,1974.96 666.20,1971.24 670.80,1968.90 C679.13,1964.67 687.47,1962.89 695.80,1960.20 C704.20,1957.49 712.60,1955.14 721.00,1952.60 C729.77,1949.94 738.53,1947.28 747.30,1944.60" fill="none" stroke="#8231a0" stroke-width="5.5" stroke-linejoin="round" stroke-linecap="butt"/>
<path d="M795.00,2102.00 C819.90,2102.00 844.80,2095.63 869.70,2087.00 C879.57,2083.58 889.43,2073.46 899.30,2064.50 C906.33,2058.11 913.37,2048.67 920.40,2041.30 C924.60,2036.90 928.80,2032.42 933.00,2028.60 C937.23,2024.75 941.47,2020.99 945.70,2018.10 C951.33,2014.25 956.97,2010.19 962.60,2008.40 C973.87,2004.82 985.13,2002.72 996.40,2001.50 C1007.67,2000.28 1018.93,1999.10 1030.20,1999.00" fill="none" stroke="#6e696d" stroke-width="5.5" stroke-linejoin="round" stroke-linecap="butt"/>
<path d="M795.00,2102.50 C808.67,2101.73 822.33,2099.50 836.00,2097.00 C847.23,2094.95 858.47,2092.00 869.70,2087.70 C880.97,2083.39 892.23,2075.42 903.50,2066.60 C910.53,2061.10 917.57,2053.09 924.60,2045.50 C928.83,2040.93 933.07,2034.91 937.30,2030.80 C941.53,2026.69 945.77,2023.04 950.00,2020.20 C955.60,2016.44 961.20,2013.07 966.80,2010.90 C976.67,2007.08 986.53,2003.98 996.40,2002.50 C1007.67,2000.81 1018.93,1999.13 1030.20,1999.10" fill="none" stroke="#dc590c" stroke-width="5.5" stroke-linejoin="round" stroke-linecap="butt"/>
<path d="M795.00,2104.60 C808.67,2104.30 822.33,2102.41 836.00,2100.40 C847.23,2098.75 858.47,2095.80 869.70,2092.00 C878.13,2089.15 886.57,2084.02 895.00,2079.30 C900.67,2076.13 906.33,2072.83 912.00,2068.70 C917.60,2064.62 923.20,2060.13 928.80,2054.00 C932.33,2050.13 935.87,2042.61 939.40,2039.20 C944.33,2034.44 949.27,2032.41 954.20,2028.60 C958.40,2025.36 962.60,2020.44 966.80,2018.10 C973.87,2014.16 980.93,2011.79 988.00,2009.60 C996.43,2006.99 1004.87,2004.67 1013.30,2003.30 C1018.93,2002.39 1024.57,2001.62 1030.20,2001.20" fill="none" stroke="#8231a0" stroke-width="5.5" stroke-linejoin="round" stroke-linecap="butt"/>
<path d="M1078.70,2090.00 C1092.07,2088.31 1105.43,2085.38 1118.80,2082.00 C1131.47,2078.80 1144.13,2073.89 1156.80,2069.00 C1165.23,2065.74 1173.67,2062.27 1182.10,2058.00 C1187.73,2055.15 1193.37,2051.25 1199.00,2048.00 C1204.63,2044.75 1210.27,2040.41 1215.90,2038.50 C1222.93,2036.12 1229.97,2035.27 1237.00,2033.50 C1242.63,2032.08 1248.27,2029.78 1253.90,2029.00 C1274.27,2026.17 1294.63,2024.00 1315.00,2024.00" fill="none" stroke="#6e696d" stroke-width="5.5" stroke-linejoin="round" stroke-linecap="butt"/>
<path d="M1078.70,2091.10 C1092.07,2089.54 1105.43,2086.73 1118.80,2083.50 C1131.47,2080.44 1144.13,2075.63 1156.80,2070.90 C1165.23,2067.75 1173.67,2064.43 1182.10,2060.30 C1187.73,2057.54 1193.37,2053.90 1199.00,2050.60 C1204.63,2047.30 1210.27,2042.57 1215.90,2040.50 C1222.93,2037.91 1229.97,2036.97 1237.00,2035.00 C1242.63,2033.42 1248.27,2030.77 1253.90,2029.90 C1274.27,2026.75 1294.63,2024.40 1315.00,2024.40" fill="none" stroke="#dc590c" stroke-width="5.5" stroke-linejoin="round" stroke-linecap="butt"/>
<path d="M1078.70,2096.20 C1092.07,2094.08 1105.43,2091.09 1118.80,2087.70 C1130.07,2084.85 1141.33,2081.25 1152.60,2077.20 C1161.03,2074.17 1169.47,2070.45 1177.90,2066.60 C1184.93,2063.39 1191.97,2060.68 1199.00,2056.10 C1201.83,2054.26 1204.67,2050.99 1207.50,2048.90 C1210.30,2046.83 1213.10,2044.21 1215.90,2043.40 C1221.53,2041.76 1227.17,2041.86 1232.80,2040.50 C1238.43,2039.14 1244.07,2034.74 1249.70,2033.70 C1258.13,2032.14 1266.57,2031.74 1275.00,2030.80 C1288.33,2029.32 1301.67,2027.88 1315.00,2026.50" fill="none" stroke="#8231a0" stroke-width="5.5" stroke-linejoin="round" stroke-linecap="butt"/>
<text transform="translate(370 2072.4) scale(1.045 1)" font-size="30.6" font-weight="normal" font-style="normal" fill="#dc590c" text-anchor="start" >pre-JM</text>
<text transform="translate(384 2101.5) scale(1.045 1)" font-size="30" font-weight="normal" font-style="normal" fill="#dc590c" text-anchor="start" >(150)</text>
<line x1="362.8" y1="2055.7" x2="355.8" y2="2052.4" stroke="#dc590c" stroke-width="3.7"/><path d="M337.7,2044.0 L356.0,2061.6 L355.8,2052.4 L362.9,2046.7 Z" fill="#dc590c"/>
<text transform="translate(504.5 2019.1) scale(1.045 1)" font-size="30" font-weight="normal" font-style="normal" fill="#000" text-anchor="start" >LM</text>
<text transform="translate(492 2049) scale(1.045 1)" font-size="30" font-weight="normal" font-style="normal" fill="#000" text-anchor="start" >(150)</text>
<line x1="570.4" y1="2045.5" x2="592.4" y2="2055.8" stroke="#6e696d" stroke-width="3.7"/><path d="M610.5,2064.3 L592.3,2046.7 L592.4,2055.8 L585.3,2061.5 Z" fill="#6e696d"/>
<text transform="translate(664 2075) scale(1.045 1)" font-size="31" font-weight="normal" font-style="normal" fill="#8231a0" text-anchor="start" >post-JM</text>
<text transform="translate(685 2104.5) scale(1.045 1)" font-size="30" font-weight="normal" font-style="normal" fill="#8231a0" text-anchor="start" >(151)</text>
<line x1="660.7" y1="2065.5" x2="650.7" y2="2060.1" stroke="#8231a0" stroke-width="3.7"/><path d="M633.1,2050.5 L650.3,2069.2 L650.7,2060.1 L658.1,2054.8 Z" fill="#8231a0"/>
<line x1="228" y1="2162.1" x2="228" y2="2413.5" stroke="#000" stroke-width="3.8" />
<line x1="203" y1="2225" x2="228" y2="2225" stroke="#000" stroke-width="3.8" />
<text transform="translate(185.5 2240.7) scale(1.045 1)" font-size="39" font-weight="normal" font-style="normal" fill="#000" text-anchor="end" >40</text>
<line x1="203" y1="2309" x2="228" y2="2309" stroke="#000" stroke-width="3.8" />
<text transform="translate(185.5 2324.7) scale(1.045 1)" font-size="39" font-weight="normal" font-style="normal" fill="#000" text-anchor="end" >20</text>
<line x1="203" y1="2393.6" x2="228" y2="2393.6" stroke="#000" stroke-width="3.8" />
<text transform="translate(185.5 2409.2999999999997) scale(1.045 1)" font-size="39" font-weight="normal" font-style="normal" fill="#000" text-anchor="end" >0</text>
<text transform="translate(116.5 2295.5) rotate(-90) scale(1.045 1)" font-size="40" font-weight="normal" font-style="normal" fill="#000" text-anchor="middle" >nA</text>
<line x1="228" y1="2393.2" x2="463.5" y2="2393.2" stroke="#000" stroke-width="2" stroke-dasharray="4 3.9"/>
<line x1="511.4" y1="2393.2" x2="747.3" y2="2393.2" stroke="#000" stroke-width="2" stroke-dasharray="4 3.9"/>
<line x1="486.3" y1="2393.2" x2="511.4" y2="2393.2" stroke="#000" stroke-width="3.8" />
<line x1="795" y1="2393.2" x2="1030.2" y2="2393.2" stroke="#000" stroke-width="2" stroke-dasharray="4 3.9"/>
<line x1="770.3" y1="2393.2" x2="795" y2="2393.2" stroke="#000" stroke-width="3.8" />
<line x1="1078.5" y1="2393.2" x2="1313" y2="2393.2" stroke="#000" stroke-width="2" stroke-dasharray="4 3.9"/>
<line x1="1053.6" y1="2393.2" x2="1078.5" y2="2393.2" stroke="#000" stroke-width="3.8" />
<text transform="translate(246 2170.5) scale(1.045 1)" font-size="39" font-weight="bold" fill="#000"><tspan font-style="italic">I</tspan><tspan font-size="21.5" font-weight="bold" dy="3.5" dx="-1">g,150-151</tspan></text>
<path d="M228.00,2392.60 C244.50,2392.60 261.00,2392.07 277.50,2390.90 C283.07,2390.51 288.63,2388.19 294.20,2385.90 C298.67,2384.07 303.13,2381.66 307.60,2377.50 C310.93,2374.39 314.27,2367.96 317.60,2360.80 C320.93,2353.64 324.27,2343.92 327.60,2330.70 C329.83,2321.84 332.07,2308.97 334.30,2293.90 C336.00,2282.43 337.70,2268.28 339.40,2250.40 C340.50,2238.83 341.60,2218.91 342.70,2206.90 C343.47,2198.53 344.23,2185.10 345.00,2185.10 C346.13,2185.10 347.27,2190.34 348.40,2196.80 C349.50,2203.07 350.60,2235.53 351.70,2250.40 C353.17,2270.22 354.63,2285.49 356.10,2300.60 C357.77,2317.78 359.43,2337.87 361.10,2347.40 C363.33,2360.17 365.57,2370.75 367.80,2374.20 C372.27,2381.09 376.73,2385.40 381.20,2385.90 C391.23,2387.03 401.27,2386.92 411.30,2387.50 C428.57,2388.50 445.83,2389.63 463.10,2390.90" fill="none" stroke="#d02a19" stroke-width="7" stroke-linejoin="round" stroke-linecap="butt"/>
<path d="M511.40,2391.90 C522.70,2391.54 534.00,2389.89 545.30,2388.10 C553.67,2386.78 562.03,2384.75 570.40,2381.80 C577.10,2379.44 583.80,2375.91 590.50,2370.50 C595.50,2366.47 600.50,2358.89 605.50,2350.50 C609.67,2343.51 613.83,2333.54 618.00,2322.80 C619.70,2318.42 621.40,2313.86 623.10,2307.80 C624.77,2301.86 626.43,2291.10 628.10,2285.20 C630.60,2276.34 633.10,2263.90 635.60,2263.90 C637.70,2263.90 639.80,2269.50 641.90,2275.20 C644.00,2280.90 646.10,2297.64 648.20,2310.30 C649.87,2320.34 651.53,2336.39 653.20,2342.90 C655.70,2352.67 658.20,2358.40 660.70,2363.00 C664.07,2369.19 667.43,2375.58 670.80,2376.80 C677.47,2379.23 684.13,2380.38 690.80,2380.60 C700.87,2380.93 710.93,2380.81 721.00,2381.10 C729.77,2381.35 738.53,2382.45 747.30,2383.60" fill="none" stroke="#4f9fcc" stroke-width="7" stroke-linejoin="round" stroke-linecap="butt"/>
<path d="M795.00,2387.40 C808.67,2386.04 822.33,2383.31 836.00,2380.20 C847.23,2377.64 858.47,2374.33 869.70,2369.60 C876.77,2366.62 883.83,2362.16 890.90,2357.00 C895.10,2353.93 899.30,2348.74 903.50,2345.60 C906.33,2343.48 909.17,2342.58 912.00,2340.10 C914.80,2337.64 917.60,2330.07 920.40,2328.70 C923.20,2327.33 926.00,2326.20 928.80,2326.20 C930.50,2326.20 932.20,2326.20 933.90,2326.20 C935.73,2326.20 937.57,2331.25 939.40,2332.90 C942.93,2336.08 946.47,2336.94 950.00,2340.10 C954.20,2343.85 958.40,2353.06 962.60,2357.00 C965.43,2359.66 968.27,2361.41 971.10,2363.30 C973.90,2365.17 976.70,2366.52 979.50,2368.40 C983.73,2371.24 987.97,2376.04 992.20,2378.10 C999.23,2381.53 1006.27,2383.57 1013.30,2385.30 C1018.93,2386.69 1024.57,2387.87 1030.20,2388.60" fill="none" stroke="#2c3686" stroke-width="7" stroke-linejoin="round" stroke-linecap="butt"/>
<path d="M1078.70,2378.10 C1092.07,2376.41 1105.43,2373.80 1118.80,2370.90 C1125.83,2369.38 1132.87,2367.19 1139.90,2365.40 C1145.53,2363.97 1151.17,2363.28 1156.80,2361.20 C1159.60,2360.16 1162.40,2356.86 1165.20,2356.10 C1169.43,2354.96 1173.67,2355.27 1177.90,2354.00 C1180.00,2353.37 1182.10,2350.44 1184.20,2348.50 C1185.63,2347.17 1187.07,2344.30 1188.50,2344.30 C1192.70,2344.30 1196.90,2345.27 1201.10,2346.40 C1203.23,2346.97 1205.37,2348.42 1207.50,2349.80 C1210.30,2351.62 1213.10,2355.18 1215.90,2357.00 C1221.53,2360.65 1227.17,2361.18 1232.80,2365.40 C1235.60,2367.50 1238.40,2374.49 1241.20,2376.00 C1244.03,2377.52 1246.87,2378.90 1249.70,2378.90 C1253.90,2378.90 1258.10,2378.90 1262.30,2378.90 C1267.93,2378.90 1273.57,2383.14 1279.20,2383.60 C1284.83,2384.06 1290.47,2383.97 1296.10,2384.40 C1302.40,2384.89 1308.70,2386.62 1315.00,2388.60" fill="none" stroke="#35972f" stroke-width="7" stroke-linejoin="round" stroke-linecap="butt"/>
<line x1="1212.7" y1="2433.5" x2="1307.2" y2="2433.5" stroke="#000" stroke-width="4.3" />
<text transform="translate(1218 2468.7) scale(1.035 1)" font-size="39.3" font-weight="normal" font-style="normal" fill="#000" text-anchor="start" >2 ms</text>
</svg>
</body></html>
